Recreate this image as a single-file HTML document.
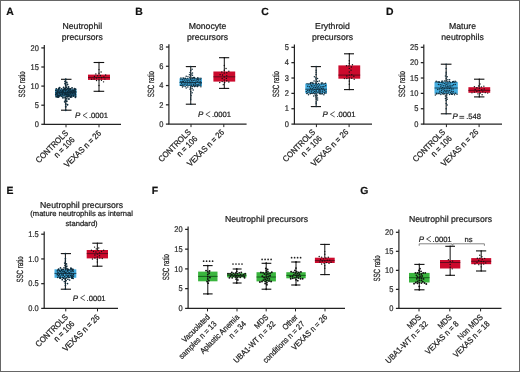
<!DOCTYPE html>
<html><head><meta charset="utf-8"><style>
html,body{margin:0;padding:0;background:#fff;}
body{width:520px;height:372px;overflow:hidden;}
.wrap{position:relative;width:520px;height:372px;box-sizing:border-box;border:1px solid #666;}
svg{position:absolute;left:-1px;top:-1px;filter:blur(0.3px);}
text{font-family:"Liberation Sans", sans-serif;stroke:#1a1a1a;stroke-width:0.22px;text-rendering:geometricPrecision;}
</style></head><body><div class="wrap">
<svg width="520" height="372" viewBox="0 0 520 372" font-family='"Liberation Sans", sans-serif'>
<text x="6.3" y="15.4" font-size="10.4" font-weight="bold" fill="#111">A</text>
<text x="135.3" y="15.4" font-size="10.4" font-weight="bold" fill="#111">B</text>
<text x="261.2" y="15.4" font-size="10.4" font-weight="bold" fill="#111">C</text>
<text x="386.0" y="15.4" font-size="10.4" font-weight="bold" fill="#111">D</text>
<text x="6.5" y="193.9" font-size="10.4" font-weight="bold" fill="#111">E</text>
<text x="151.8" y="193.9" font-size="10.4" font-weight="bold" fill="#111">F</text>
<text x="360.3" y="193.9" font-size="10.4" font-weight="bold" fill="#111">G</text>
<text x="82.3" y="29.2" text-anchor="middle" font-size="8.7" fill="#222">Neutrophil</text>
<text x="82.3" y="39.6" text-anchor="middle" font-size="8.7" fill="#222">precursors</text>
<line x1="44.3" y1="45.1" x2="44.3" y2="124.3" stroke="#222" stroke-width="1.2"/>
<line x1="43.699999999999996" y1="124.3" x2="121" y2="124.3" stroke="#222" stroke-width="1.2"/>
<line x1="41.3" y1="124.30" x2="44.3" y2="124.30" stroke="#222" stroke-width="1.25"/>
<text transform="translate(38.80,127.05) scale(0.9,1)" text-anchor="end" font-size="8.32" fill="#333">0</text>
<line x1="41.3" y1="105.20" x2="44.3" y2="105.20" stroke="#222" stroke-width="1.25"/>
<text transform="translate(38.80,107.95) scale(0.9,1)" text-anchor="end" font-size="8.32" fill="#333">5</text>
<line x1="41.3" y1="86.10" x2="44.3" y2="86.10" stroke="#222" stroke-width="1.25"/>
<text transform="translate(38.80,88.85) scale(0.9,1)" text-anchor="end" font-size="8.32" fill="#333">10</text>
<line x1="41.3" y1="67.00" x2="44.3" y2="67.00" stroke="#222" stroke-width="1.25"/>
<text transform="translate(38.80,69.75) scale(0.9,1)" text-anchor="end" font-size="8.32" fill="#333">15</text>
<line x1="41.3" y1="47.90" x2="44.3" y2="47.90" stroke="#222" stroke-width="1.25"/>
<text transform="translate(38.80,50.65) scale(0.9,1)" text-anchor="end" font-size="8.32" fill="#333">20</text>
<line x1="66" y1="124.3" x2="66" y2="127.3" stroke="#222" stroke-width="1"/>
<line x1="99" y1="124.3" x2="99" y2="127.3" stroke="#222" stroke-width="1"/>
<text transform="translate(24.9,84.4) rotate(-90) scale(0.68,1)" text-anchor="middle" font-size="9.0" fill="#222">SSC ratio</text>
<line x1="65.75" y1="79.3" x2="65.75" y2="110.2" stroke="#111" stroke-width="1"/>
<line x1="61" y1="79.3" x2="71.5" y2="79.3" stroke="#111" stroke-width="1.1"/>
<line x1="61" y1="110.2" x2="71.5" y2="110.2" stroke="#111" stroke-width="1.1"/>
<rect x="55" y="89.2" width="21.50" height="7.20" fill="#44ade0"/>
<rect x="56.50" y="90.20" width="18.50" height="5.20" fill="#24688e"/>
<line x1="55" y1="92.6" x2="76.5" y2="92.6" stroke="#0d2a3a" stroke-width="0.8"/>
<circle cx="65.75" cy="92.70" r="0.95" fill="#0e2c3c"/>
<circle cx="67.85" cy="92.72" r="0.95" fill="#0e2c3c"/>
<circle cx="63.65" cy="92.44" r="0.95" fill="#0e2c3c"/>
<circle cx="69.60" cy="92.21" r="0.95" fill="#0e2c3c"/>
<circle cx="61.55" cy="92.14" r="0.95" fill="#0e2c3c"/>
<circle cx="71.70" cy="92.10" r="0.95" fill="#0e2c3c"/>
<circle cx="59.45" cy="92.08" r="0.95" fill="#0e2c3c"/>
<circle cx="73.80" cy="91.96" r="0.95" fill="#0e2c3c"/>
<circle cx="57.35" cy="91.86" r="0.95" fill="#0e2c3c"/>
<circle cx="75.20" cy="93.37" r="0.95" fill="#0e2c3c"/>
<circle cx="56.30" cy="93.38" r="0.95" fill="#0e2c3c"/>
<circle cx="65.20" cy="93.39" r="0.95" fill="#0e2c3c"/>
<circle cx="59.65" cy="93.42" r="0.95" fill="#0e2c3c"/>
<circle cx="67.84" cy="91.73" r="0.95" fill="#0e2c3c"/>
<circle cx="72.75" cy="93.62" r="0.95" fill="#0e2c3c"/>
<circle cx="70.65" cy="93.70" r="0.95" fill="#0e2c3c"/>
<circle cx="75.55" cy="91.49" r="0.95" fill="#0e2c3c"/>
<circle cx="62.65" cy="91.47" r="0.95" fill="#0e2c3c"/>
<circle cx="62.25" cy="93.87" r="0.95" fill="#0e2c3c"/>
<circle cx="71.89" cy="91.24" r="0.95" fill="#0e2c3c"/>
<circle cx="70.19" cy="91.16" r="0.95" fill="#0e2c3c"/>
<circle cx="62.76" cy="91.15" r="0.95" fill="#0e2c3c"/>
<circle cx="75.19" cy="91.14" r="0.95" fill="#0e2c3c"/>
<circle cx="57.40" cy="94.06" r="0.95" fill="#0e2c3c"/>
<circle cx="57.83" cy="91.09" r="0.95" fill="#0e2c3c"/>
<circle cx="68.90" cy="94.19" r="0.95" fill="#0e2c3c"/>
<circle cx="66.80" cy="94.31" r="0.95" fill="#0e2c3c"/>
<circle cx="65.15" cy="94.32" r="0.95" fill="#0e2c3c"/>
<circle cx="65.75" cy="90.82" r="0.95" fill="#0e2c3c"/>
<circle cx="62.52" cy="94.50" r="0.95" fill="#0e2c3c"/>
<circle cx="65.40" cy="94.58" r="0.95" fill="#0e2c3c"/>
<circle cx="75.41" cy="94.59" r="0.95" fill="#0e2c3c"/>
<circle cx="67.94" cy="94.61" r="0.95" fill="#0e2c3c"/>
<circle cx="60.50" cy="90.55" r="0.95" fill="#0e2c3c"/>
<circle cx="55.84" cy="94.73" r="0.95" fill="#0e2c3c"/>
<circle cx="55.95" cy="90.45" r="0.95" fill="#0e2c3c"/>
<circle cx="73.89" cy="90.43" r="0.95" fill="#0e2c3c"/>
<circle cx="62.65" cy="90.34" r="0.95" fill="#0e2c3c"/>
<circle cx="60.50" cy="95.04" r="0.95" fill="#0e2c3c"/>
<circle cx="68.60" cy="90.15" r="0.95" fill="#0e2c3c"/>
<circle cx="72.41" cy="90.10" r="0.95" fill="#0e2c3c"/>
<circle cx="71.35" cy="95.39" r="0.95" fill="#0e2c3c"/>
<circle cx="73.45" cy="95.45" r="0.95" fill="#0e2c3c"/>
<circle cx="58.19" cy="89.70" r="0.95" fill="#0e2c3c"/>
<circle cx="58.75" cy="95.59" r="0.95" fill="#0e2c3c"/>
<circle cx="64.35" cy="89.57" r="0.95" fill="#0e2c3c"/>
<circle cx="63.53" cy="89.53" r="0.95" fill="#0e2c3c"/>
<circle cx="69.96" cy="89.52" r="0.95" fill="#0e2c3c"/>
<circle cx="64.00" cy="95.85" r="0.95" fill="#0e2c3c"/>
<circle cx="69.60" cy="95.86" r="0.95" fill="#0e2c3c"/>
<circle cx="66.80" cy="89.33" r="0.95" fill="#0e2c3c"/>
<circle cx="75.55" cy="89.32" r="0.95" fill="#0e2c3c"/>
<circle cx="59.77" cy="95.92" r="0.95" fill="#0e2c3c"/>
<circle cx="73.49" cy="95.94" r="0.95" fill="#0e2c3c"/>
<circle cx="64.44" cy="89.26" r="0.95" fill="#0e2c3c"/>
<circle cx="68.45" cy="95.97" r="0.95" fill="#0e2c3c"/>
<circle cx="57.53" cy="96.03" r="0.95" fill="#0e2c3c"/>
<circle cx="74.63" cy="89.15" r="0.95" fill="#0e2c3c"/>
<circle cx="66.45" cy="96.15" r="0.95" fill="#0e2c3c"/>
<circle cx="70.16" cy="89.02" r="0.95" fill="#0e2c3c"/>
<circle cx="65.02" cy="89.02" r="0.95" fill="#0e2c3c"/>
<circle cx="61.90" cy="96.21" r="0.95" fill="#0e2c3c"/>
<circle cx="70.59" cy="88.98" r="0.95" fill="#0e2c3c"/>
<circle cx="57.49" cy="96.24" r="0.95" fill="#0e2c3c"/>
<circle cx="58.96" cy="88.95" r="0.95" fill="#0e2c3c"/>
<circle cx="75.56" cy="96.29" r="0.95" fill="#0e2c3c"/>
<circle cx="61.55" cy="88.87" r="0.95" fill="#0e2c3c"/>
<circle cx="56.35" cy="88.87" r="0.95" fill="#0e2c3c"/>
<circle cx="67.56" cy="88.80" r="0.95" fill="#0e2c3c"/>
<circle cx="65.06" cy="88.74" r="0.95" fill="#0e2c3c"/>
<circle cx="68.85" cy="88.74" r="0.95" fill="#0e2c3c"/>
<circle cx="67.97" cy="96.49" r="0.95" fill="#0e2c3c"/>
<circle cx="67.66" cy="96.53" r="0.95" fill="#0e2c3c"/>
<circle cx="65.24" cy="88.67" r="0.95" fill="#0e2c3c"/>
<circle cx="74.46" cy="88.63" r="0.95" fill="#0e2c3c"/>
<circle cx="58.90" cy="88.57" r="0.95" fill="#0e2c3c"/>
<circle cx="66.71" cy="96.66" r="0.95" fill="#0e2c3c"/>
<circle cx="56.23" cy="96.69" r="0.95" fill="#0e2c3c"/>
<circle cx="71.71" cy="96.83" r="0.95" fill="#0e2c3c"/>
<circle cx="70.25" cy="96.87" r="0.95" fill="#0e2c3c"/>
<circle cx="57.85" cy="96.95" r="0.95" fill="#0e2c3c"/>
<circle cx="70.71" cy="96.98" r="0.95" fill="#0e2c3c"/>
<circle cx="58.57" cy="97.00" r="0.95" fill="#0e2c3c"/>
<circle cx="75.43" cy="97.18" r="0.95" fill="#0e2c3c"/>
<circle cx="72.05" cy="87.91" r="0.95" fill="#0e2c3c"/>
<circle cx="59.68" cy="87.76" r="0.95" fill="#0e2c3c"/>
<circle cx="65.05" cy="97.72" r="0.95" fill="#0e2c3c"/>
<circle cx="62.95" cy="97.75" r="0.95" fill="#0e2c3c"/>
<circle cx="63.65" cy="87.45" r="0.95" fill="#0e2c3c"/>
<circle cx="66.45" cy="87.29" r="0.95" fill="#0e2c3c"/>
<circle cx="68.55" cy="86.96" r="0.95" fill="#0e2c3c"/>
<circle cx="66.80" cy="98.83" r="0.95" fill="#0e2c3c"/>
<circle cx="68.90" cy="98.96" r="0.95" fill="#0e2c3c"/>
<circle cx="65.75" cy="85.31" r="0.95" fill="#0e2c3c"/>
<circle cx="65.40" cy="100.13" r="0.95" fill="#0e2c3c"/>
<circle cx="67.50" cy="84.53" r="0.95" fill="#0e2c3c"/>
<circle cx="66.80" cy="101.29" r="0.95" fill="#0e2c3c"/>
<circle cx="65.05" cy="83.64" r="0.95" fill="#0e2c3c"/>
<circle cx="64.70" cy="101.86" r="0.95" fill="#0e2c3c"/>
<circle cx="66.80" cy="82.54" r="0.95" fill="#0e2c3c"/>
<circle cx="65.05" cy="81.57" r="0.95" fill="#0e2c3c"/>
<circle cx="65.75" cy="103.88" r="0.95" fill="#0e2c3c"/>
<circle cx="67.50" cy="104.82" r="0.95" fill="#0e2c3c"/>
<circle cx="65.75" cy="79.30" r="0.95" fill="#0e2c3c"/>
<circle cx="65.75" cy="106.81" r="0.95" fill="#0e2c3c"/>
<circle cx="65.75" cy="110.20" r="0.95" fill="#0e2c3c"/>
<line x1="99.00" y1="62.5" x2="99.00" y2="91.3" stroke="#111" stroke-width="1"/>
<line x1="93.6" y1="62.5" x2="104.2" y2="62.5" stroke="#111" stroke-width="1.1"/>
<line x1="93.6" y1="91.3" x2="104.2" y2="91.3" stroke="#111" stroke-width="1.1"/>
<rect x="88" y="74.6" width="22.00" height="5.30" fill="#cc0a2d"/>
<line x1="88" y1="77.5" x2="110" y2="77.5" stroke="#4a0a18" stroke-width="0.8"/>
<circle cx="99.00" cy="77.63" r="0.7" fill="#111"/>
<circle cx="101.45" cy="77.71" r="0.7" fill="#111"/>
<circle cx="96.55" cy="78.01" r="0.7" fill="#111"/>
<circle cx="103.90" cy="76.90" r="0.7" fill="#111"/>
<circle cx="94.45" cy="76.56" r="0.7" fill="#111"/>
<circle cx="94.10" cy="78.99" r="0.7" fill="#111"/>
<circle cx="104.95" cy="79.08" r="0.7" fill="#111"/>
<circle cx="91.65" cy="79.25" r="0.7" fill="#111"/>
<circle cx="97.60" cy="75.67" r="0.7" fill="#111"/>
<circle cx="100.40" cy="75.52" r="0.7" fill="#111"/>
<circle cx="105.65" cy="75.05" r="0.7" fill="#111"/>
<circle cx="99.00" cy="80.06" r="0.7" fill="#111"/>
<circle cx="101.45" cy="80.22" r="0.7" fill="#111"/>
<circle cx="96.55" cy="80.46" r="0.7" fill="#111"/>
<circle cx="95.85" cy="73.99" r="0.7" fill="#111"/>
<circle cx="99.00" cy="73.22" r="0.7" fill="#111"/>
<circle cx="103.55" cy="81.84" r="0.7" fill="#111"/>
<circle cx="101.10" cy="71.95" r="0.7" fill="#111"/>
<circle cx="99.00" cy="69.59" r="0.7" fill="#111"/>
<circle cx="99.00" cy="85.49" r="0.7" fill="#111"/>
<circle cx="99.00" cy="91.30" r="0.7" fill="#111"/>
<circle cx="99.00" cy="62.50" r="0.7" fill="#111"/>
<text x="75.10" y="118.2" font-size="8.0" font-style="italic" fill="#222">P</text>
<path d="M87.30 112.70 L83.00 115.40 L87.30 118.10" fill="none" stroke="#222" stroke-width="0.75"/>
<text x="89.00" y="118.2" font-size="7.6" fill="#222">.0001</text>
<text transform="translate(68.80,133.70) rotate(-45) scale(0.9,1)" text-anchor="end" font-size="8.44" fill="#222"><tspan x="0" y="0.00">CONTROLS</tspan><tspan x="0" y="9.20">n = 106</tspan></text>
<text transform="translate(101.80,133.70) rotate(-45) scale(0.9,1)" text-anchor="end" font-size="8.44" fill="#222"><tspan x="0" y="0.00">VEXAS n = 26</tspan></text>
<text x="207.5" y="29.2" text-anchor="middle" font-size="8.7" fill="#222">Monocyte</text>
<text x="207.5" y="39.6" text-anchor="middle" font-size="8.7" fill="#222">precursors</text>
<line x1="168.9" y1="44.2" x2="168.9" y2="124.1" stroke="#222" stroke-width="1.2"/>
<line x1="168.3" y1="124.1" x2="246.6" y2="124.1" stroke="#222" stroke-width="1.2"/>
<line x1="165.9" y1="124.10" x2="168.9" y2="124.10" stroke="#222" stroke-width="1.25"/>
<text transform="translate(163.40,126.85) scale(0.9,1)" text-anchor="end" font-size="8.32" fill="#333">0</text>
<line x1="165.9" y1="104.82" x2="168.9" y2="104.82" stroke="#222" stroke-width="1.25"/>
<text transform="translate(163.40,107.57) scale(0.9,1)" text-anchor="end" font-size="8.32" fill="#333">2</text>
<line x1="165.9" y1="85.55" x2="168.9" y2="85.55" stroke="#222" stroke-width="1.25"/>
<text transform="translate(163.40,88.30) scale(0.9,1)" text-anchor="end" font-size="8.32" fill="#333">4</text>
<line x1="165.9" y1="66.28" x2="168.9" y2="66.28" stroke="#222" stroke-width="1.25"/>
<text transform="translate(163.40,69.03) scale(0.9,1)" text-anchor="end" font-size="8.32" fill="#333">6</text>
<line x1="165.9" y1="47.00" x2="168.9" y2="47.00" stroke="#222" stroke-width="1.25"/>
<text transform="translate(163.40,49.75) scale(0.9,1)" text-anchor="end" font-size="8.32" fill="#333">8</text>
<line x1="191" y1="124.1" x2="191" y2="127.1" stroke="#222" stroke-width="1"/>
<line x1="223.8" y1="124.1" x2="223.8" y2="127.1" stroke="#222" stroke-width="1"/>
<text transform="translate(153.7,84.2) rotate(-90) scale(0.68,1)" text-anchor="middle" font-size="9.0" fill="#222">SSC ratio</text>
<line x1="190.75" y1="66.6" x2="190.75" y2="104.2" stroke="#111" stroke-width="1"/>
<line x1="185.8" y1="66.6" x2="196" y2="66.6" stroke="#111" stroke-width="1.1"/>
<line x1="185.8" y1="104.2" x2="196" y2="104.2" stroke="#111" stroke-width="1.1"/>
<rect x="179.5" y="78.3" width="22.50" height="7.70" fill="#44ade0"/>
<line x1="179.5" y1="82.4" x2="202" y2="82.4" stroke="#0d2a3a" stroke-width="0.8"/>
<circle cx="190.75" cy="82.53" r="0.75" fill="#0e2c3c"/>
<circle cx="192.50" cy="82.25" r="0.75" fill="#0e2c3c"/>
<circle cx="189.00" cy="82.65" r="0.75" fill="#0e2c3c"/>
<circle cx="194.25" cy="82.66" r="0.75" fill="#0e2c3c"/>
<circle cx="187.25" cy="82.03" r="0.75" fill="#0e2c3c"/>
<circle cx="196.00" cy="82.01" r="0.75" fill="#0e2c3c"/>
<circle cx="185.50" cy="81.98" r="0.75" fill="#0e2c3c"/>
<circle cx="184.10" cy="82.95" r="0.75" fill="#0e2c3c"/>
<circle cx="197.75" cy="81.81" r="0.75" fill="#0e2c3c"/>
<circle cx="199.15" cy="83.01" r="0.75" fill="#0e2c3c"/>
<circle cx="182.70" cy="81.72" r="0.75" fill="#0e2c3c"/>
<circle cx="181.65" cy="83.15" r="0.75" fill="#0e2c3c"/>
<circle cx="200.20" cy="81.65" r="0.75" fill="#0e2c3c"/>
<circle cx="180.95" cy="81.59" r="0.75" fill="#0e2c3c"/>
<circle cx="183.42" cy="81.59" r="0.75" fill="#0e2c3c"/>
<circle cx="200.90" cy="83.30" r="0.75" fill="#0e2c3c"/>
<circle cx="195.43" cy="83.34" r="0.75" fill="#0e2c3c"/>
<circle cx="189.70" cy="81.03" r="0.75" fill="#0e2c3c"/>
<circle cx="191.80" cy="83.95" r="0.75" fill="#0e2c3c"/>
<circle cx="187.60" cy="83.98" r="0.75" fill="#0e2c3c"/>
<circle cx="191.45" cy="80.80" r="0.75" fill="#0e2c3c"/>
<circle cx="185.85" cy="84.03" r="0.75" fill="#0e2c3c"/>
<circle cx="190.05" cy="84.09" r="0.75" fill="#0e2c3c"/>
<circle cx="193.20" cy="80.49" r="0.75" fill="#0e2c3c"/>
<circle cx="187.95" cy="80.46" r="0.75" fill="#0e2c3c"/>
<circle cx="193.55" cy="84.35" r="0.75" fill="#0e2c3c"/>
<circle cx="197.05" cy="84.41" r="0.75" fill="#0e2c3c"/>
<circle cx="194.95" cy="80.34" r="0.75" fill="#0e2c3c"/>
<circle cx="186.20" cy="80.08" r="0.75" fill="#0e2c3c"/>
<circle cx="196.70" cy="80.07" r="0.75" fill="#0e2c3c"/>
<circle cx="184.45" cy="80.04" r="0.75" fill="#0e2c3c"/>
<circle cx="184.10" cy="84.77" r="0.75" fill="#0e2c3c"/>
<circle cx="198.80" cy="84.78" r="0.75" fill="#0e2c3c"/>
<circle cx="198.45" cy="79.91" r="0.75" fill="#0e2c3c"/>
<circle cx="195.30" cy="85.07" r="0.75" fill="#0e2c3c"/>
<circle cx="182.70" cy="79.73" r="0.75" fill="#0e2c3c"/>
<circle cx="200.20" cy="79.71" r="0.75" fill="#0e2c3c"/>
<circle cx="182.35" cy="85.10" r="0.75" fill="#0e2c3c"/>
<circle cx="200.55" cy="85.11" r="0.75" fill="#0e2c3c"/>
<circle cx="180.60" cy="85.22" r="0.75" fill="#0e2c3c"/>
<circle cx="193.74" cy="85.31" r="0.75" fill="#0e2c3c"/>
<circle cx="189.00" cy="85.49" r="0.75" fill="#0e2c3c"/>
<circle cx="191.10" cy="85.55" r="0.75" fill="#0e2c3c"/>
<circle cx="190.75" cy="79.25" r="0.75" fill="#0e2c3c"/>
<circle cx="186.90" cy="85.55" r="0.75" fill="#0e2c3c"/>
<circle cx="181.22" cy="85.57" r="0.75" fill="#0e2c3c"/>
<circle cx="180.95" cy="79.16" r="0.75" fill="#0e2c3c"/>
<circle cx="197.76" cy="79.16" r="0.75" fill="#0e2c3c"/>
<circle cx="198.94" cy="85.76" r="0.75" fill="#0e2c3c"/>
<circle cx="193.41" cy="85.80" r="0.75" fill="#0e2c3c"/>
<circle cx="195.64" cy="85.80" r="0.75" fill="#0e2c3c"/>
<circle cx="197.28" cy="85.80" r="0.75" fill="#0e2c3c"/>
<circle cx="189.00" cy="78.96" r="0.75" fill="#0e2c3c"/>
<circle cx="183.21" cy="85.93" r="0.75" fill="#0e2c3c"/>
<circle cx="192.50" cy="78.83" r="0.75" fill="#0e2c3c"/>
<circle cx="194.25" cy="78.71" r="0.75" fill="#0e2c3c"/>
<circle cx="191.25" cy="86.09" r="0.75" fill="#0e2c3c"/>
<circle cx="187.25" cy="78.68" r="0.75" fill="#0e2c3c"/>
<circle cx="190.84" cy="78.68" r="0.75" fill="#0e2c3c"/>
<circle cx="197.75" cy="78.66" r="0.75" fill="#0e2c3c"/>
<circle cx="196.00" cy="78.48" r="0.75" fill="#0e2c3c"/>
<circle cx="185.50" cy="78.46" r="0.75" fill="#0e2c3c"/>
<circle cx="185.15" cy="86.41" r="0.75" fill="#0e2c3c"/>
<circle cx="197.12" cy="86.47" r="0.75" fill="#0e2c3c"/>
<circle cx="197.57" cy="86.49" r="0.75" fill="#0e2c3c"/>
<circle cx="183.75" cy="78.27" r="0.75" fill="#0e2c3c"/>
<circle cx="192.51" cy="86.54" r="0.75" fill="#0e2c3c"/>
<circle cx="198.96" cy="78.21" r="0.75" fill="#0e2c3c"/>
<circle cx="194.57" cy="86.59" r="0.75" fill="#0e2c3c"/>
<circle cx="194.79" cy="86.61" r="0.75" fill="#0e2c3c"/>
<circle cx="200.90" cy="78.15" r="0.75" fill="#0e2c3c"/>
<circle cx="185.11" cy="78.14" r="0.75" fill="#0e2c3c"/>
<circle cx="180.95" cy="78.08" r="0.75" fill="#0e2c3c"/>
<circle cx="200.90" cy="86.78" r="0.75" fill="#0e2c3c"/>
<circle cx="183.08" cy="77.96" r="0.75" fill="#0e2c3c"/>
<circle cx="187.84" cy="86.88" r="0.75" fill="#0e2c3c"/>
<circle cx="182.49" cy="86.97" r="0.75" fill="#0e2c3c"/>
<circle cx="197.77" cy="77.79" r="0.75" fill="#0e2c3c"/>
<circle cx="191.97" cy="77.79" r="0.75" fill="#0e2c3c"/>
<circle cx="193.42" cy="77.75" r="0.75" fill="#0e2c3c"/>
<circle cx="193.39" cy="77.55" r="0.75" fill="#0e2c3c"/>
<circle cx="194.53" cy="77.43" r="0.75" fill="#0e2c3c"/>
<circle cx="189.70" cy="77.19" r="0.75" fill="#0e2c3c"/>
<circle cx="190.40" cy="87.64" r="0.75" fill="#0e2c3c"/>
<circle cx="186.20" cy="87.89" r="0.75" fill="#0e2c3c"/>
<circle cx="187.95" cy="76.78" r="0.75" fill="#0e2c3c"/>
<circle cx="192.15" cy="88.48" r="0.75" fill="#0e2c3c"/>
<circle cx="186.20" cy="76.24" r="0.75" fill="#0e2c3c"/>
<circle cx="190.75" cy="75.84" r="0.75" fill="#0e2c3c"/>
<circle cx="190.05" cy="89.33" r="0.75" fill="#0e2c3c"/>
<circle cx="192.50" cy="75.14" r="0.75" fill="#0e2c3c"/>
<circle cx="193.20" cy="90.00" r="0.75" fill="#0e2c3c"/>
<circle cx="189.35" cy="74.64" r="0.75" fill="#0e2c3c"/>
<circle cx="191.10" cy="73.97" r="0.75" fill="#0e2c3c"/>
<circle cx="190.75" cy="91.62" r="0.75" fill="#0e2c3c"/>
<circle cx="192.50" cy="73.00" r="0.75" fill="#0e2c3c"/>
<circle cx="190.05" cy="72.43" r="0.75" fill="#0e2c3c"/>
<circle cx="192.15" cy="92.70" r="0.75" fill="#0e2c3c"/>
<circle cx="190.75" cy="93.95" r="0.75" fill="#0e2c3c"/>
<circle cx="190.75" cy="70.56" r="0.75" fill="#0e2c3c"/>
<circle cx="192.15" cy="69.30" r="0.75" fill="#0e2c3c"/>
<circle cx="191.10" cy="95.63" r="0.75" fill="#0e2c3c"/>
<circle cx="190.75" cy="97.98" r="0.75" fill="#0e2c3c"/>
<circle cx="190.75" cy="66.60" r="0.75" fill="#0e2c3c"/>
<circle cx="190.75" cy="99.73" r="0.75" fill="#0e2c3c"/>
<circle cx="190.75" cy="104.20" r="0.75" fill="#0e2c3c"/>
<line x1="224.30" y1="57.7" x2="224.30" y2="88.4" stroke="#111" stroke-width="1"/>
<line x1="219" y1="57.7" x2="229.2" y2="57.7" stroke="#111" stroke-width="1.1"/>
<line x1="219" y1="88.4" x2="229.2" y2="88.4" stroke="#111" stroke-width="1.1"/>
<rect x="213.4" y="71.5" width="21.80" height="10.10" fill="#cc0a2d"/>
<line x1="213.4" y1="76.8" x2="235.2" y2="76.8" stroke="#4a0a18" stroke-width="0.8"/>
<circle cx="224.30" cy="76.94" r="0.7" fill="#111"/>
<circle cx="226.75" cy="75.81" r="0.7" fill="#111"/>
<circle cx="226.40" cy="78.39" r="0.7" fill="#111"/>
<circle cx="222.20" cy="78.46" r="0.7" fill="#111"/>
<circle cx="222.55" cy="75.07" r="0.7" fill="#111"/>
<circle cx="220.10" cy="74.67" r="0.7" fill="#111"/>
<circle cx="224.30" cy="80.05" r="0.7" fill="#111"/>
<circle cx="224.30" cy="73.07" r="0.7" fill="#111"/>
<circle cx="226.75" cy="80.77" r="0.7" fill="#111"/>
<circle cx="226.75" cy="72.75" r="0.7" fill="#111"/>
<circle cx="221.85" cy="72.07" r="0.7" fill="#111"/>
<circle cx="222.20" cy="81.60" r="0.7" fill="#111"/>
<circle cx="228.85" cy="81.99" r="0.7" fill="#111"/>
<circle cx="228.85" cy="71.30" r="0.7" fill="#111"/>
<circle cx="224.65" cy="82.50" r="0.7" fill="#111"/>
<circle cx="219.75" cy="82.50" r="0.7" fill="#111"/>
<circle cx="224.30" cy="70.26" r="0.7" fill="#111"/>
<circle cx="223.25" cy="84.65" r="0.7" fill="#111"/>
<circle cx="226.05" cy="68.44" r="0.7" fill="#111"/>
<circle cx="224.30" cy="65.50" r="0.7" fill="#111"/>
<circle cx="224.30" cy="88.40" r="0.7" fill="#111"/>
<circle cx="224.30" cy="57.70" r="0.7" fill="#111"/>
<text x="198.00" y="117.1" font-size="8.0" font-style="italic" fill="#222">P</text>
<path d="M210.20 111.60 L205.90 114.30 L210.20 117.00" fill="none" stroke="#222" stroke-width="0.75"/>
<text x="211.90" y="117.1" font-size="7.6" fill="#222">.0001</text>
<text transform="translate(191.50,132.70) rotate(-45) scale(0.9,1)" text-anchor="end" font-size="8.44" fill="#222"><tspan x="0" y="0.00">CONTROLS</tspan><tspan x="0" y="9.20">n = 106</tspan></text>
<text transform="translate(224.80,132.70) rotate(-45) scale(0.9,1)" text-anchor="end" font-size="8.44" fill="#222"><tspan x="0" y="0.00">VEXAS n = 26</tspan></text>
<text x="332.5" y="29.2" text-anchor="middle" font-size="8.7" fill="#222">Erythroid</text>
<text x="332.5" y="39.6" text-anchor="middle" font-size="8.7" fill="#222">precursors</text>
<line x1="294.4" y1="44.5" x2="294.4" y2="124.1" stroke="#222" stroke-width="1.2"/>
<line x1="293.79999999999995" y1="124.1" x2="372" y2="124.1" stroke="#222" stroke-width="1.2"/>
<line x1="291.4" y1="124.10" x2="294.4" y2="124.10" stroke="#222" stroke-width="1.25"/>
<text transform="translate(288.90,126.85) scale(0.9,1)" text-anchor="end" font-size="8.32" fill="#333">0</text>
<line x1="291.4" y1="108.74" x2="294.4" y2="108.74" stroke="#222" stroke-width="1.25"/>
<text transform="translate(288.90,111.49) scale(0.9,1)" text-anchor="end" font-size="8.32" fill="#333">1</text>
<line x1="291.4" y1="93.38" x2="294.4" y2="93.38" stroke="#222" stroke-width="1.25"/>
<text transform="translate(288.90,96.13) scale(0.9,1)" text-anchor="end" font-size="8.32" fill="#333">2</text>
<line x1="291.4" y1="78.02" x2="294.4" y2="78.02" stroke="#222" stroke-width="1.25"/>
<text transform="translate(288.90,80.77) scale(0.9,1)" text-anchor="end" font-size="8.32" fill="#333">3</text>
<line x1="291.4" y1="62.66" x2="294.4" y2="62.66" stroke="#222" stroke-width="1.25"/>
<text transform="translate(288.90,65.41) scale(0.9,1)" text-anchor="end" font-size="8.32" fill="#333">4</text>
<line x1="291.4" y1="47.30" x2="294.4" y2="47.30" stroke="#222" stroke-width="1.25"/>
<text transform="translate(288.90,50.05) scale(0.9,1)" text-anchor="end" font-size="8.32" fill="#333">5</text>
<line x1="316.4" y1="124.1" x2="316.4" y2="127.1" stroke="#222" stroke-width="1"/>
<line x1="349.1" y1="124.1" x2="349.1" y2="127.1" stroke="#222" stroke-width="1"/>
<text transform="translate(278.7,84.2) rotate(-90) scale(0.68,1)" text-anchor="middle" font-size="9.0" fill="#222">SSC ratio</text>
<line x1="316.15" y1="66.6" x2="316.15" y2="106.6" stroke="#111" stroke-width="1"/>
<line x1="310.8" y1="66.6" x2="321" y2="66.6" stroke="#111" stroke-width="1.1"/>
<line x1="310.8" y1="106.6" x2="321" y2="106.6" stroke="#111" stroke-width="1.1"/>
<rect x="305.3" y="83.6" width="21.70" height="9.70" fill="#44ade0"/>
<line x1="305.3" y1="89.2" x2="327" y2="89.2" stroke="#0d2a3a" stroke-width="0.8"/>
<circle cx="316.15" cy="89.20" r="0.75" fill="#0e2c3c"/>
<circle cx="317.90" cy="89.30" r="0.75" fill="#0e2c3c"/>
<circle cx="314.40" cy="89.43" r="0.75" fill="#0e2c3c"/>
<circle cx="319.65" cy="89.49" r="0.75" fill="#0e2c3c"/>
<circle cx="312.65" cy="88.72" r="0.75" fill="#0e2c3c"/>
<circle cx="321.40" cy="88.59" r="0.75" fill="#0e2c3c"/>
<circle cx="311.25" cy="89.88" r="0.75" fill="#0e2c3c"/>
<circle cx="322.80" cy="89.90" r="0.75" fill="#0e2c3c"/>
<circle cx="310.55" cy="88.23" r="0.75" fill="#0e2c3c"/>
<circle cx="323.15" cy="88.19" r="0.75" fill="#0e2c3c"/>
<circle cx="309.50" cy="90.23" r="0.75" fill="#0e2c3c"/>
<circle cx="324.55" cy="90.31" r="0.75" fill="#0e2c3c"/>
<circle cx="307.75" cy="90.38" r="0.75" fill="#0e2c3c"/>
<circle cx="318.95" cy="87.93" r="0.75" fill="#0e2c3c"/>
<circle cx="317.20" cy="87.71" r="0.75" fill="#0e2c3c"/>
<circle cx="313.00" cy="90.72" r="0.75" fill="#0e2c3c"/>
<circle cx="315.45" cy="87.56" r="0.75" fill="#0e2c3c"/>
<circle cx="316.15" cy="90.91" r="0.75" fill="#0e2c3c"/>
<circle cx="318.60" cy="90.92" r="0.75" fill="#0e2c3c"/>
<circle cx="320.70" cy="90.97" r="0.75" fill="#0e2c3c"/>
<circle cx="316.12" cy="91.01" r="0.75" fill="#0e2c3c"/>
<circle cx="313.70" cy="87.36" r="0.75" fill="#0e2c3c"/>
<circle cx="319.66" cy="91.10" r="0.75" fill="#0e2c3c"/>
<circle cx="325.95" cy="91.36" r="0.75" fill="#0e2c3c"/>
<circle cx="306.35" cy="91.39" r="0.75" fill="#0e2c3c"/>
<circle cx="314.54" cy="91.47" r="0.75" fill="#0e2c3c"/>
<circle cx="320.35" cy="86.89" r="0.75" fill="#0e2c3c"/>
<circle cx="311.95" cy="86.78" r="0.75" fill="#0e2c3c"/>
<circle cx="311.25" cy="91.65" r="0.75" fill="#0e2c3c"/>
<circle cx="322.45" cy="91.69" r="0.75" fill="#0e2c3c"/>
<circle cx="322.10" cy="86.70" r="0.75" fill="#0e2c3c"/>
<circle cx="309.50" cy="86.68" r="0.75" fill="#0e2c3c"/>
<circle cx="309.15" cy="91.90" r="0.75" fill="#0e2c3c"/>
<circle cx="323.85" cy="86.39" r="0.75" fill="#0e2c3c"/>
<circle cx="318.25" cy="86.20" r="0.75" fill="#0e2c3c"/>
<circle cx="307.75" cy="86.19" r="0.75" fill="#0e2c3c"/>
<circle cx="316.50" cy="86.09" r="0.75" fill="#0e2c3c"/>
<circle cx="317.20" cy="92.36" r="0.75" fill="#0e2c3c"/>
<circle cx="324.20" cy="92.36" r="0.75" fill="#0e2c3c"/>
<circle cx="314.75" cy="85.79" r="0.75" fill="#0e2c3c"/>
<circle cx="325.60" cy="85.66" r="0.75" fill="#0e2c3c"/>
<circle cx="311.27" cy="85.61" r="0.75" fill="#0e2c3c"/>
<circle cx="318.95" cy="92.86" r="0.75" fill="#0e2c3c"/>
<circle cx="313.35" cy="92.87" r="0.75" fill="#0e2c3c"/>
<circle cx="315.45" cy="92.97" r="0.75" fill="#0e2c3c"/>
<circle cx="320.70" cy="93.00" r="0.75" fill="#0e2c3c"/>
<circle cx="307.75" cy="93.01" r="0.75" fill="#0e2c3c"/>
<circle cx="325.95" cy="93.08" r="0.75" fill="#0e2c3c"/>
<circle cx="319.51" cy="93.13" r="0.75" fill="#0e2c3c"/>
<circle cx="324.70" cy="93.16" r="0.75" fill="#0e2c3c"/>
<circle cx="311.60" cy="93.33" r="0.75" fill="#0e2c3c"/>
<circle cx="322.45" cy="93.41" r="0.75" fill="#0e2c3c"/>
<circle cx="310.66" cy="93.41" r="0.75" fill="#0e2c3c"/>
<circle cx="306.79" cy="93.45" r="0.75" fill="#0e2c3c"/>
<circle cx="313.00" cy="84.93" r="0.75" fill="#0e2c3c"/>
<circle cx="312.89" cy="93.47" r="0.75" fill="#0e2c3c"/>
<circle cx="319.65" cy="84.92" r="0.75" fill="#0e2c3c"/>
<circle cx="314.55" cy="93.68" r="0.75" fill="#0e2c3c"/>
<circle cx="319.82" cy="93.79" r="0.75" fill="#0e2c3c"/>
<circle cx="310.08" cy="93.84" r="0.75" fill="#0e2c3c"/>
<circle cx="322.12" cy="93.87" r="0.75" fill="#0e2c3c"/>
<circle cx="317.20" cy="84.51" r="0.75" fill="#0e2c3c"/>
<circle cx="316.85" cy="94.06" r="0.75" fill="#0e2c3c"/>
<circle cx="320.96" cy="94.12" r="0.75" fill="#0e2c3c"/>
<circle cx="315.45" cy="84.11" r="0.75" fill="#0e2c3c"/>
<circle cx="321.40" cy="84.11" r="0.75" fill="#0e2c3c"/>
<circle cx="310.55" cy="84.04" r="0.75" fill="#0e2c3c"/>
<circle cx="323.15" cy="83.96" r="0.75" fill="#0e2c3c"/>
<circle cx="308.80" cy="83.90" r="0.75" fill="#0e2c3c"/>
<circle cx="324.90" cy="83.81" r="0.75" fill="#0e2c3c"/>
<circle cx="307.05" cy="83.77" r="0.75" fill="#0e2c3c"/>
<circle cx="323.85" cy="94.74" r="0.75" fill="#0e2c3c"/>
<circle cx="316.25" cy="83.56" r="0.75" fill="#0e2c3c"/>
<circle cx="308.45" cy="94.85" r="0.75" fill="#0e2c3c"/>
<circle cx="318.60" cy="83.46" r="0.75" fill="#0e2c3c"/>
<circle cx="310.22" cy="83.39" r="0.75" fill="#0e2c3c"/>
<circle cx="313.70" cy="83.34" r="0.75" fill="#0e2c3c"/>
<circle cx="325.59" cy="83.31" r="0.75" fill="#0e2c3c"/>
<circle cx="315.45" cy="95.25" r="0.75" fill="#0e2c3c"/>
<circle cx="312.37" cy="83.15" r="0.75" fill="#0e2c3c"/>
<circle cx="322.58" cy="83.10" r="0.75" fill="#0e2c3c"/>
<circle cx="310.74" cy="83.06" r="0.75" fill="#0e2c3c"/>
<circle cx="310.55" cy="82.98" r="0.75" fill="#0e2c3c"/>
<circle cx="321.39" cy="82.88" r="0.75" fill="#0e2c3c"/>
<circle cx="317.20" cy="95.82" r="0.75" fill="#0e2c3c"/>
<circle cx="312.03" cy="82.51" r="0.75" fill="#0e2c3c"/>
<circle cx="313.70" cy="96.11" r="0.75" fill="#0e2c3c"/>
<circle cx="315.80" cy="81.89" r="0.75" fill="#0e2c3c"/>
<circle cx="317.55" cy="81.44" r="0.75" fill="#0e2c3c"/>
<circle cx="315.80" cy="97.01" r="0.75" fill="#0e2c3c"/>
<circle cx="314.05" cy="81.10" r="0.75" fill="#0e2c3c"/>
<circle cx="319.30" cy="80.94" r="0.75" fill="#0e2c3c"/>
<circle cx="317.55" cy="97.93" r="0.75" fill="#0e2c3c"/>
<circle cx="316.15" cy="79.79" r="0.75" fill="#0e2c3c"/>
<circle cx="316.15" cy="99.08" r="0.75" fill="#0e2c3c"/>
<circle cx="317.55" cy="78.47" r="0.75" fill="#0e2c3c"/>
<circle cx="317.55" cy="100.08" r="0.75" fill="#0e2c3c"/>
<circle cx="315.80" cy="78.12" r="0.75" fill="#0e2c3c"/>
<circle cx="314.40" cy="76.84" r="0.75" fill="#0e2c3c"/>
<circle cx="316.15" cy="102.03" r="0.75" fill="#0e2c3c"/>
<circle cx="316.15" cy="103.76" r="0.75" fill="#0e2c3c"/>
<circle cx="316.15" cy="74.55" r="0.75" fill="#0e2c3c"/>
<circle cx="316.15" cy="72.28" r="0.75" fill="#0e2c3c"/>
<circle cx="316.15" cy="106.60" r="0.75" fill="#0e2c3c"/>
<circle cx="316.15" cy="70.15" r="0.75" fill="#0e2c3c"/>
<circle cx="316.15" cy="66.60" r="0.75" fill="#0e2c3c"/>
<line x1="349.30" y1="53.8" x2="349.30" y2="89.6" stroke="#111" stroke-width="1"/>
<line x1="344" y1="53.8" x2="354" y2="53.8" stroke="#111" stroke-width="1.1"/>
<line x1="344" y1="89.6" x2="354" y2="89.6" stroke="#111" stroke-width="1.1"/>
<rect x="338.4" y="65.4" width="21.80" height="13.30" fill="#cc0a2d"/>
<line x1="338.4" y1="75.1" x2="360.2" y2="75.1" stroke="#4a0a18" stroke-width="0.8"/>
<circle cx="349.30" cy="75.08" r="0.7" fill="#111"/>
<circle cx="351.75" cy="74.79" r="0.7" fill="#111"/>
<circle cx="346.85" cy="75.95" r="0.7" fill="#111"/>
<circle cx="353.85" cy="76.31" r="0.7" fill="#111"/>
<circle cx="349.30" cy="77.93" r="0.7" fill="#111"/>
<circle cx="349.30" cy="72.02" r="0.7" fill="#111"/>
<circle cx="351.75" cy="78.24" r="0.7" fill="#111"/>
<circle cx="346.85" cy="78.52" r="0.7" fill="#111"/>
<circle cx="344.40" cy="78.60" r="0.7" fill="#111"/>
<circle cx="354.20" cy="79.19" r="0.7" fill="#111"/>
<circle cx="351.05" cy="70.15" r="0.7" fill="#111"/>
<circle cx="349.30" cy="81.09" r="0.7" fill="#111"/>
<circle cx="349.30" cy="68.40" r="0.7" fill="#111"/>
<circle cx="351.40" cy="67.04" r="0.7" fill="#111"/>
<circle cx="349.30" cy="84.16" r="0.7" fill="#111"/>
<circle cx="348.95" cy="65.88" r="0.7" fill="#111"/>
<circle cx="346.50" cy="65.70" r="0.7" fill="#111"/>
<circle cx="352.45" cy="64.75" r="0.7" fill="#111"/>
<circle cx="349.30" cy="63.45" r="0.7" fill="#111"/>
<circle cx="349.30" cy="60.69" r="0.7" fill="#111"/>
<circle cx="349.30" cy="89.60" r="0.7" fill="#111"/>
<circle cx="349.30" cy="53.80" r="0.7" fill="#111"/>
<text x="322.50" y="117.1" font-size="8.0" font-style="italic" fill="#222">P</text>
<path d="M334.70 111.60 L330.40 114.30 L334.70 117.00" fill="none" stroke="#222" stroke-width="0.75"/>
<text x="336.40" y="117.1" font-size="7.6" fill="#222">.0001</text>
<text transform="translate(315.90,132.60) rotate(-45) scale(0.9,1)" text-anchor="end" font-size="8.44" fill="#222"><tspan x="0" y="0.00">CONTROLS</tspan><tspan x="0" y="9.20">n = 106</tspan></text>
<text transform="translate(348.90,132.60) rotate(-45) scale(0.9,1)" text-anchor="end" font-size="8.44" fill="#222"><tspan x="0" y="0.00">VEXAS n = 26</tspan></text>
<text x="462.5" y="29.2" text-anchor="middle" font-size="8.7" fill="#222">Mature</text>
<text x="462.5" y="39.6" text-anchor="middle" font-size="8.7" fill="#222">neutrophils</text>
<line x1="423.8" y1="44.5" x2="423.8" y2="124.1" stroke="#222" stroke-width="1.2"/>
<line x1="423.2" y1="124.1" x2="502" y2="124.1" stroke="#222" stroke-width="1.2"/>
<line x1="420.8" y1="124.10" x2="423.8" y2="124.10" stroke="#222" stroke-width="1.25"/>
<text transform="translate(418.30,126.85) scale(0.9,1)" text-anchor="end" font-size="8.32" fill="#333">0</text>
<line x1="420.8" y1="108.74" x2="423.8" y2="108.74" stroke="#222" stroke-width="1.25"/>
<text transform="translate(418.30,111.49) scale(0.9,1)" text-anchor="end" font-size="8.32" fill="#333">5</text>
<line x1="420.8" y1="93.38" x2="423.8" y2="93.38" stroke="#222" stroke-width="1.25"/>
<text transform="translate(418.30,96.13) scale(0.9,1)" text-anchor="end" font-size="8.32" fill="#333">10</text>
<line x1="420.8" y1="78.02" x2="423.8" y2="78.02" stroke="#222" stroke-width="1.25"/>
<text transform="translate(418.30,80.77) scale(0.9,1)" text-anchor="end" font-size="8.32" fill="#333">15</text>
<line x1="420.8" y1="62.66" x2="423.8" y2="62.66" stroke="#222" stroke-width="1.25"/>
<text transform="translate(418.30,65.41) scale(0.9,1)" text-anchor="end" font-size="8.32" fill="#333">20</text>
<line x1="420.8" y1="47.30" x2="423.8" y2="47.30" stroke="#222" stroke-width="1.25"/>
<text transform="translate(418.30,50.05) scale(0.9,1)" text-anchor="end" font-size="8.32" fill="#333">25</text>
<line x1="446.4" y1="124.1" x2="446.4" y2="127.1" stroke="#222" stroke-width="1"/>
<line x1="479.1" y1="124.1" x2="479.1" y2="127.1" stroke="#222" stroke-width="1"/>
<text transform="translate(404.7,84.2) rotate(-90) scale(0.68,1)" text-anchor="middle" font-size="9.0" fill="#222">SSC ratio</text>
<line x1="446.15" y1="64.2" x2="446.15" y2="113.8" stroke="#111" stroke-width="1"/>
<line x1="440.8" y1="64.2" x2="451.5" y2="64.2" stroke="#111" stroke-width="1.1"/>
<line x1="440.8" y1="113.8" x2="451.5" y2="113.8" stroke="#111" stroke-width="1.1"/>
<rect x="434.5" y="81.9" width="23.30" height="11.85" fill="#44ade0"/>
<line x1="434.5" y1="88" x2="457.8" y2="88" stroke="#0d2a3a" stroke-width="0.8"/>
<circle cx="446.15" cy="87.98" r="0.75" fill="#0e2c3c"/>
<circle cx="447.90" cy="88.16" r="0.75" fill="#0e2c3c"/>
<circle cx="444.40" cy="88.27" r="0.75" fill="#0e2c3c"/>
<circle cx="449.65" cy="88.39" r="0.75" fill="#0e2c3c"/>
<circle cx="442.65" cy="87.55" r="0.75" fill="#0e2c3c"/>
<circle cx="441.25" cy="88.69" r="0.75" fill="#0e2c3c"/>
<circle cx="451.40" cy="88.97" r="0.75" fill="#0e2c3c"/>
<circle cx="450.70" cy="86.99" r="0.75" fill="#0e2c3c"/>
<circle cx="439.50" cy="89.11" r="0.75" fill="#0e2c3c"/>
<circle cx="453.15" cy="89.11" r="0.75" fill="#0e2c3c"/>
<circle cx="440.90" cy="86.84" r="0.75" fill="#0e2c3c"/>
<circle cx="448.95" cy="86.75" r="0.75" fill="#0e2c3c"/>
<circle cx="443.00" cy="89.27" r="0.75" fill="#0e2c3c"/>
<circle cx="447.20" cy="86.57" r="0.75" fill="#0e2c3c"/>
<circle cx="437.75" cy="89.49" r="0.75" fill="#0e2c3c"/>
<circle cx="445.45" cy="86.12" r="0.75" fill="#0e2c3c"/>
<circle cx="446.15" cy="90.14" r="0.75" fill="#0e2c3c"/>
<circle cx="447.90" cy="90.18" r="0.75" fill="#0e2c3c"/>
<circle cx="443.70" cy="85.77" r="0.75" fill="#0e2c3c"/>
<circle cx="444.40" cy="90.25" r="0.75" fill="#0e2c3c"/>
<circle cx="452.10" cy="85.68" r="0.75" fill="#0e2c3c"/>
<circle cx="449.65" cy="90.39" r="0.75" fill="#0e2c3c"/>
<circle cx="441.60" cy="90.61" r="0.75" fill="#0e2c3c"/>
<circle cx="450.00" cy="85.28" r="0.75" fill="#0e2c3c"/>
<circle cx="447.90" cy="85.01" r="0.75" fill="#0e2c3c"/>
<circle cx="441.95" cy="84.96" r="0.75" fill="#0e2c3c"/>
<circle cx="440.20" cy="84.83" r="0.75" fill="#0e2c3c"/>
<circle cx="451.40" cy="91.20" r="0.75" fill="#0e2c3c"/>
<circle cx="439.85" cy="91.31" r="0.75" fill="#0e2c3c"/>
<circle cx="453.50" cy="84.66" r="0.75" fill="#0e2c3c"/>
<circle cx="446.15" cy="84.56" r="0.75" fill="#0e2c3c"/>
<circle cx="438.45" cy="84.56" r="0.75" fill="#0e2c3c"/>
<circle cx="453.15" cy="91.46" r="0.75" fill="#0e2c3c"/>
<circle cx="455.25" cy="84.45" r="0.75" fill="#0e2c3c"/>
<circle cx="446.85" cy="91.74" r="0.75" fill="#0e2c3c"/>
<circle cx="445.10" cy="91.86" r="0.75" fill="#0e2c3c"/>
<circle cx="448.60" cy="91.89" r="0.75" fill="#0e2c3c"/>
<circle cx="443.35" cy="92.01" r="0.75" fill="#0e2c3c"/>
<circle cx="441.60" cy="92.38" r="0.75" fill="#0e2c3c"/>
<circle cx="444.75" cy="83.46" r="0.75" fill="#0e2c3c"/>
<circle cx="450.35" cy="92.71" r="0.75" fill="#0e2c3c"/>
<circle cx="447.20" cy="83.07" r="0.75" fill="#0e2c3c"/>
<circle cx="448.95" cy="83.05" r="0.75" fill="#0e2c3c"/>
<circle cx="443.00" cy="83.01" r="0.75" fill="#0e2c3c"/>
<circle cx="452.10" cy="93.02" r="0.75" fill="#0e2c3c"/>
<circle cx="439.85" cy="93.04" r="0.75" fill="#0e2c3c"/>
<circle cx="453.85" cy="93.19" r="0.75" fill="#0e2c3c"/>
<circle cx="450.70" cy="82.80" r="0.75" fill="#0e2c3c"/>
<circle cx="438.10" cy="93.20" r="0.75" fill="#0e2c3c"/>
<circle cx="455.60" cy="93.23" r="0.75" fill="#0e2c3c"/>
<circle cx="436.35" cy="93.28" r="0.75" fill="#0e2c3c"/>
<circle cx="446.15" cy="93.34" r="0.75" fill="#0e2c3c"/>
<circle cx="447.90" cy="93.46" r="0.75" fill="#0e2c3c"/>
<circle cx="441.25" cy="82.53" r="0.75" fill="#0e2c3c"/>
<circle cx="444.40" cy="93.65" r="0.75" fill="#0e2c3c"/>
<circle cx="452.45" cy="82.32" r="0.75" fill="#0e2c3c"/>
<circle cx="451.30" cy="93.70" r="0.75" fill="#0e2c3c"/>
<circle cx="439.50" cy="82.30" r="0.75" fill="#0e2c3c"/>
<circle cx="442.65" cy="93.78" r="0.75" fill="#0e2c3c"/>
<circle cx="454.20" cy="82.20" r="0.75" fill="#0e2c3c"/>
<circle cx="439.03" cy="93.84" r="0.75" fill="#0e2c3c"/>
<circle cx="437.75" cy="82.11" r="0.75" fill="#0e2c3c"/>
<circle cx="445.80" cy="82.10" r="0.75" fill="#0e2c3c"/>
<circle cx="455.95" cy="82.10" r="0.75" fill="#0e2c3c"/>
<circle cx="436.00" cy="82.04" r="0.75" fill="#0e2c3c"/>
<circle cx="442.85" cy="82.04" r="0.75" fill="#0e2c3c"/>
<circle cx="438.81" cy="82.03" r="0.75" fill="#0e2c3c"/>
<circle cx="439.03" cy="81.96" r="0.75" fill="#0e2c3c"/>
<circle cx="436.76" cy="94.05" r="0.75" fill="#0e2c3c"/>
<circle cx="443.63" cy="94.08" r="0.75" fill="#0e2c3c"/>
<circle cx="451.65" cy="94.15" r="0.75" fill="#0e2c3c"/>
<circle cx="457.00" cy="94.23" r="0.75" fill="#0e2c3c"/>
<circle cx="452.49" cy="94.25" r="0.75" fill="#0e2c3c"/>
<circle cx="452.76" cy="81.70" r="0.75" fill="#0e2c3c"/>
<circle cx="441.85" cy="81.64" r="0.75" fill="#0e2c3c"/>
<circle cx="449.65" cy="94.39" r="0.75" fill="#0e2c3c"/>
<circle cx="453.47" cy="81.59" r="0.75" fill="#0e2c3c"/>
<circle cx="440.90" cy="94.47" r="0.75" fill="#0e2c3c"/>
<circle cx="447.90" cy="81.44" r="0.75" fill="#0e2c3c"/>
<circle cx="449.65" cy="81.40" r="0.75" fill="#0e2c3c"/>
<circle cx="436.24" cy="81.37" r="0.75" fill="#0e2c3c"/>
<circle cx="455.11" cy="81.24" r="0.75" fill="#0e2c3c"/>
<circle cx="454.55" cy="94.85" r="0.75" fill="#0e2c3c"/>
<circle cx="446.85" cy="94.95" r="0.75" fill="#0e2c3c"/>
<circle cx="435.30" cy="94.97" r="0.75" fill="#0e2c3c"/>
<circle cx="444.40" cy="80.95" r="0.75" fill="#0e2c3c"/>
<circle cx="442.13" cy="80.89" r="0.75" fill="#0e2c3c"/>
<circle cx="446.15" cy="80.15" r="0.75" fill="#0e2c3c"/>
<circle cx="445.45" cy="96.06" r="0.75" fill="#0e2c3c"/>
<circle cx="447.90" cy="79.67" r="0.75" fill="#0e2c3c"/>
<circle cx="449.65" cy="79.65" r="0.75" fill="#0e2c3c"/>
<circle cx="446.85" cy="97.35" r="0.75" fill="#0e2c3c"/>
<circle cx="446.15" cy="78.14" r="0.75" fill="#0e2c3c"/>
<circle cx="445.45" cy="98.40" r="0.75" fill="#0e2c3c"/>
<circle cx="447.20" cy="99.16" r="0.75" fill="#0e2c3c"/>
<circle cx="447.20" cy="76.65" r="0.75" fill="#0e2c3c"/>
<circle cx="445.45" cy="75.91" r="0.75" fill="#0e2c3c"/>
<circle cx="446.15" cy="100.60" r="0.75" fill="#0e2c3c"/>
<circle cx="446.15" cy="73.96" r="0.75" fill="#0e2c3c"/>
<circle cx="446.15" cy="103.51" r="0.75" fill="#0e2c3c"/>
<circle cx="446.15" cy="72.23" r="0.75" fill="#0e2c3c"/>
<circle cx="447.20" cy="104.92" r="0.75" fill="#0e2c3c"/>
<circle cx="446.15" cy="68.58" r="0.75" fill="#0e2c3c"/>
<circle cx="446.15" cy="108.85" r="0.75" fill="#0e2c3c"/>
<circle cx="446.15" cy="64.20" r="0.75" fill="#0e2c3c"/>
<circle cx="446.15" cy="113.80" r="0.75" fill="#0e2c3c"/>
<line x1="479.30" y1="79.2" x2="479.30" y2="96.9" stroke="#111" stroke-width="1"/>
<line x1="474" y1="79.2" x2="484.4" y2="79.2" stroke="#111" stroke-width="1.1"/>
<line x1="474" y1="96.9" x2="484.4" y2="96.9" stroke="#111" stroke-width="1.1"/>
<rect x="468.4" y="87.2" width="21.80" height="5.60" fill="#cc0a2d"/>
<line x1="468.4" y1="90.4" x2="490.2" y2="90.4" stroke="#4a0a18" stroke-width="0.8"/>
<circle cx="479.30" cy="90.76" r="0.7" fill="#111"/>
<circle cx="481.75" cy="89.74" r="0.7" fill="#111"/>
<circle cx="476.85" cy="91.20" r="0.7" fill="#111"/>
<circle cx="475.10" cy="89.49" r="0.7" fill="#111"/>
<circle cx="484.20" cy="89.02" r="0.7" fill="#111"/>
<circle cx="482.80" cy="91.92" r="0.7" fill="#111"/>
<circle cx="474.40" cy="92.10" r="0.7" fill="#111"/>
<circle cx="479.30" cy="88.31" r="0.7" fill="#111"/>
<circle cx="485.25" cy="92.63" r="0.7" fill="#111"/>
<circle cx="471.95" cy="92.83" r="0.7" fill="#111"/>
<circle cx="476.85" cy="87.81" r="0.7" fill="#111"/>
<circle cx="480.35" cy="93.03" r="0.7" fill="#111"/>
<circle cx="487.70" cy="93.11" r="0.7" fill="#111"/>
<circle cx="477.90" cy="93.86" r="0.7" fill="#111"/>
<circle cx="481.40" cy="86.92" r="0.7" fill="#111"/>
<circle cx="474.40" cy="86.79" r="0.7" fill="#111"/>
<circle cx="483.85" cy="86.14" r="0.7" fill="#111"/>
<circle cx="482.10" cy="94.78" r="0.7" fill="#111"/>
<circle cx="478.60" cy="86.01" r="0.7" fill="#111"/>
<circle cx="480.00" cy="83.97" r="0.7" fill="#111"/>
<circle cx="479.30" cy="96.90" r="0.7" fill="#111"/>
<circle cx="479.30" cy="79.20" r="0.7" fill="#111"/>
<text x="452.40" y="119.4" font-size="8.0" font-style="italic" fill="#222">P</text>
<path d="M459.40 116.40 H464.20 M459.40 118.20 H464.20" fill="none" stroke="#333" stroke-width="0.9"/>
<text x="466.20" y="119.4" font-size="7.6" fill="#222">.548</text>
<text transform="translate(445.90,132.60) rotate(-45) scale(0.9,1)" text-anchor="end" font-size="8.44" fill="#222"><tspan x="0" y="0.00">CONTROLS</tspan><tspan x="0" y="9.20">n = 106</tspan></text>
<text transform="translate(478.90,132.60) rotate(-45) scale(0.9,1)" text-anchor="end" font-size="8.44" fill="#222"><tspan x="0" y="0.00">VEXAS n = 26</tspan></text>
<text x="81.6" y="207.7" text-anchor="middle" font-size="8.7" fill="#222">Neutrophil precursors</text>
<text x="81.6" y="216.3" text-anchor="middle" font-size="7.6" fill="#222">(mature neutrophils as internal</text>
<text x="81.6" y="225.8" text-anchor="middle" font-size="7.6" fill="#222">standard)</text>
<line x1="44.2" y1="231.39999999999998" x2="44.2" y2="308.4" stroke="#222" stroke-width="1.2"/>
<line x1="43.6" y1="308.4" x2="118" y2="308.4" stroke="#222" stroke-width="1.2"/>
<line x1="41.2" y1="308.40" x2="44.2" y2="308.40" stroke="#222" stroke-width="1.25"/>
<text transform="translate(38.70,311.15) scale(0.9,1)" text-anchor="end" font-size="8.32" fill="#333">0.0</text>
<line x1="41.2" y1="283.67" x2="44.2" y2="283.67" stroke="#222" stroke-width="1.25"/>
<text transform="translate(38.70,286.42) scale(0.9,1)" text-anchor="end" font-size="8.32" fill="#333">0.5</text>
<line x1="41.2" y1="258.93" x2="44.2" y2="258.93" stroke="#222" stroke-width="1.25"/>
<text transform="translate(38.70,261.68) scale(0.9,1)" text-anchor="end" font-size="8.32" fill="#333">1.0</text>
<line x1="41.2" y1="234.20" x2="44.2" y2="234.20" stroke="#222" stroke-width="1.25"/>
<text transform="translate(38.70,236.95) scale(0.9,1)" text-anchor="end" font-size="8.32" fill="#333">1.5</text>
<line x1="65.75" y1="308.4" x2="65.75" y2="311.4" stroke="#222" stroke-width="1"/>
<line x1="97.5" y1="308.4" x2="97.5" y2="311.4" stroke="#222" stroke-width="1"/>
<text transform="translate(23.3,269.5) rotate(-90) scale(0.68,1)" text-anchor="middle" font-size="9.0" fill="#222">SSC ratio</text>
<line x1="65.40" y1="253.6" x2="65.40" y2="289.2" stroke="#111" stroke-width="1"/>
<line x1="60.8" y1="253.6" x2="71" y2="253.6" stroke="#111" stroke-width="1.1"/>
<line x1="60.8" y1="289.2" x2="71" y2="289.2" stroke="#111" stroke-width="1.1"/>
<rect x="54.5" y="269.3" width="21.80" height="8.50" fill="#44ade0"/>
<line x1="54.5" y1="273.4" x2="76.3" y2="273.4" stroke="#0d2a3a" stroke-width="0.8"/>
<circle cx="65.40" cy="273.32" r="0.85" fill="#0e2c3c"/>
<circle cx="67.50" cy="273.48" r="0.85" fill="#0e2c3c"/>
<circle cx="63.30" cy="273.59" r="0.85" fill="#0e2c3c"/>
<circle cx="69.60" cy="273.63" r="0.85" fill="#0e2c3c"/>
<circle cx="61.20" cy="273.07" r="0.85" fill="#0e2c3c"/>
<circle cx="71.70" cy="273.79" r="0.85" fill="#0e2c3c"/>
<circle cx="59.45" cy="274.14" r="0.85" fill="#0e2c3c"/>
<circle cx="58.05" cy="272.65" r="0.85" fill="#0e2c3c"/>
<circle cx="73.38" cy="274.22" r="0.85" fill="#0e2c3c"/>
<circle cx="69.02" cy="272.56" r="0.85" fill="#0e2c3c"/>
<circle cx="65.04" cy="272.51" r="0.85" fill="#0e2c3c"/>
<circle cx="66.02" cy="272.35" r="0.85" fill="#0e2c3c"/>
<circle cx="57.35" cy="274.68" r="0.85" fill="#0e2c3c"/>
<circle cx="61.90" cy="274.94" r="0.85" fill="#0e2c3c"/>
<circle cx="62.95" cy="271.72" r="0.85" fill="#0e2c3c"/>
<circle cx="66.10" cy="275.09" r="0.85" fill="#0e2c3c"/>
<circle cx="71.00" cy="271.70" r="0.85" fill="#0e2c3c"/>
<circle cx="63.38" cy="275.20" r="0.85" fill="#0e2c3c"/>
<circle cx="60.15" cy="271.47" r="0.85" fill="#0e2c3c"/>
<circle cx="68.20" cy="275.40" r="0.85" fill="#0e2c3c"/>
<circle cx="70.30" cy="275.42" r="0.85" fill="#0e2c3c"/>
<circle cx="73.10" cy="271.37" r="0.85" fill="#0e2c3c"/>
<circle cx="64.38" cy="271.31" r="0.85" fill="#0e2c3c"/>
<circle cx="72.06" cy="275.57" r="0.85" fill="#0e2c3c"/>
<circle cx="58.62" cy="275.63" r="0.85" fill="#0e2c3c"/>
<circle cx="67.50" cy="270.93" r="0.85" fill="#0e2c3c"/>
<circle cx="57.35" cy="270.86" r="0.85" fill="#0e2c3c"/>
<circle cx="67.91" cy="270.73" r="0.85" fill="#0e2c3c"/>
<circle cx="60.15" cy="276.11" r="0.85" fill="#0e2c3c"/>
<circle cx="73.43" cy="276.11" r="0.85" fill="#0e2c3c"/>
<circle cx="61.54" cy="270.61" r="0.85" fill="#0e2c3c"/>
<circle cx="67.73" cy="276.25" r="0.85" fill="#0e2c3c"/>
<circle cx="59.31" cy="270.53" r="0.85" fill="#0e2c3c"/>
<circle cx="71.72" cy="276.47" r="0.85" fill="#0e2c3c"/>
<circle cx="72.27" cy="270.28" r="0.85" fill="#0e2c3c"/>
<circle cx="64.70" cy="276.57" r="0.85" fill="#0e2c3c"/>
<circle cx="72.56" cy="270.22" r="0.85" fill="#0e2c3c"/>
<circle cx="69.95" cy="270.11" r="0.85" fill="#0e2c3c"/>
<circle cx="65.75" cy="269.78" r="0.85" fill="#0e2c3c"/>
<circle cx="63.30" cy="269.72" r="0.85" fill="#0e2c3c"/>
<circle cx="61.57" cy="269.56" r="0.85" fill="#0e2c3c"/>
<circle cx="62.60" cy="277.25" r="0.85" fill="#0e2c3c"/>
<circle cx="58.17" cy="269.53" r="0.85" fill="#0e2c3c"/>
<circle cx="69.60" cy="277.30" r="0.85" fill="#0e2c3c"/>
<circle cx="67.60" cy="269.49" r="0.85" fill="#0e2c3c"/>
<circle cx="57.70" cy="277.36" r="0.85" fill="#0e2c3c"/>
<circle cx="68.30" cy="277.36" r="0.85" fill="#0e2c3c"/>
<circle cx="68.40" cy="269.43" r="0.85" fill="#0e2c3c"/>
<circle cx="72.14" cy="277.40" r="0.85" fill="#0e2c3c"/>
<circle cx="73.03" cy="269.34" r="0.85" fill="#0e2c3c"/>
<circle cx="62.10" cy="269.33" r="0.85" fill="#0e2c3c"/>
<circle cx="72.33" cy="277.58" r="0.85" fill="#0e2c3c"/>
<circle cx="71.77" cy="277.60" r="0.85" fill="#0e2c3c"/>
<circle cx="58.70" cy="269.10" r="0.85" fill="#0e2c3c"/>
<circle cx="65.52" cy="269.06" r="0.85" fill="#0e2c3c"/>
<circle cx="60.06" cy="277.76" r="0.85" fill="#0e2c3c"/>
<circle cx="71.94" cy="269.00" r="0.85" fill="#0e2c3c"/>
<circle cx="70.92" cy="268.98" r="0.85" fill="#0e2c3c"/>
<circle cx="66.45" cy="277.83" r="0.85" fill="#0e2c3c"/>
<circle cx="60.60" cy="277.84" r="0.85" fill="#0e2c3c"/>
<circle cx="59.89" cy="277.88" r="0.85" fill="#0e2c3c"/>
<circle cx="72.11" cy="277.91" r="0.85" fill="#0e2c3c"/>
<circle cx="60.42" cy="278.00" r="0.85" fill="#0e2c3c"/>
<circle cx="63.60" cy="278.06" r="0.85" fill="#0e2c3c"/>
<circle cx="67.04" cy="268.66" r="0.85" fill="#0e2c3c"/>
<circle cx="63.45" cy="278.17" r="0.85" fill="#0e2c3c"/>
<circle cx="71.09" cy="268.60" r="0.85" fill="#0e2c3c"/>
<circle cx="72.21" cy="278.23" r="0.85" fill="#0e2c3c"/>
<circle cx="73.18" cy="278.31" r="0.85" fill="#0e2c3c"/>
<circle cx="70.92" cy="268.12" r="0.85" fill="#0e2c3c"/>
<circle cx="60.50" cy="267.97" r="0.85" fill="#0e2c3c"/>
<circle cx="65.99" cy="267.97" r="0.85" fill="#0e2c3c"/>
<circle cx="64.95" cy="278.91" r="0.85" fill="#0e2c3c"/>
<circle cx="64.00" cy="267.78" r="0.85" fill="#0e2c3c"/>
<circle cx="67.85" cy="279.27" r="0.85" fill="#0e2c3c"/>
<circle cx="62.25" cy="279.68" r="0.85" fill="#0e2c3c"/>
<circle cx="69.60" cy="280.02" r="0.85" fill="#0e2c3c"/>
<circle cx="66.10" cy="280.54" r="0.85" fill="#0e2c3c"/>
<circle cx="66.80" cy="266.20" r="0.85" fill="#0e2c3c"/>
<circle cx="65.05" cy="265.45" r="0.85" fill="#0e2c3c"/>
<circle cx="64.35" cy="281.49" r="0.85" fill="#0e2c3c"/>
<circle cx="66.45" cy="263.93" r="0.85" fill="#0e2c3c"/>
<circle cx="65.40" cy="283.28" r="0.85" fill="#0e2c3c"/>
<circle cx="67.50" cy="283.53" r="0.85" fill="#0e2c3c"/>
<circle cx="64.70" cy="263.12" r="0.85" fill="#0e2c3c"/>
<circle cx="65.40" cy="285.49" r="0.85" fill="#0e2c3c"/>
<circle cx="65.40" cy="261.03" r="0.85" fill="#0e2c3c"/>
<circle cx="65.40" cy="258.69" r="0.85" fill="#0e2c3c"/>
<circle cx="65.40" cy="289.20" r="0.85" fill="#0e2c3c"/>
<circle cx="65.40" cy="253.60" r="0.85" fill="#0e2c3c"/>
<line x1="97.35" y1="243.2" x2="97.35" y2="266.2" stroke="#111" stroke-width="1"/>
<line x1="92.3" y1="243.2" x2="102.5" y2="243.2" stroke="#111" stroke-width="1.1"/>
<line x1="92.3" y1="266.2" x2="102.5" y2="266.2" stroke="#111" stroke-width="1.1"/>
<rect x="86.7" y="250" width="21.30" height="8.40" fill="#cc0a2d"/>
<line x1="86.7" y1="253.6" x2="108" y2="253.6" stroke="#4a0a18" stroke-width="0.8"/>
<circle cx="97.35" cy="254.11" r="0.7" fill="#111"/>
<circle cx="99.45" cy="252.88" r="0.7" fill="#111"/>
<circle cx="94.90" cy="255.01" r="0.7" fill="#111"/>
<circle cx="95.95" cy="252.06" r="0.7" fill="#111"/>
<circle cx="99.45" cy="255.65" r="0.7" fill="#111"/>
<circle cx="93.50" cy="251.50" r="0.7" fill="#111"/>
<circle cx="101.55" cy="251.46" r="0.7" fill="#111"/>
<circle cx="98.05" cy="250.57" r="0.7" fill="#111"/>
<circle cx="91.40" cy="250.25" r="0.7" fill="#111"/>
<circle cx="97.35" cy="257.00" r="0.7" fill="#111"/>
<circle cx="103.65" cy="250.15" r="0.7" fill="#111"/>
<circle cx="94.90" cy="257.99" r="0.7" fill="#111"/>
<circle cx="99.80" cy="258.08" r="0.7" fill="#111"/>
<circle cx="96.30" cy="248.89" r="0.7" fill="#111"/>
<circle cx="102.25" cy="258.45" r="0.7" fill="#111"/>
<circle cx="92.45" cy="259.06" r="0.7" fill="#111"/>
<circle cx="98.75" cy="248.07" r="0.7" fill="#111"/>
<circle cx="97.35" cy="259.52" r="0.7" fill="#111"/>
<circle cx="94.55" cy="247.10" r="0.7" fill="#111"/>
<circle cx="97.35" cy="261.96" r="0.7" fill="#111"/>
<circle cx="97.35" cy="243.20" r="0.7" fill="#111"/>
<circle cx="97.35" cy="266.20" r="0.7" fill="#111"/>
<text x="72.70" y="300.6" font-size="8.0" font-style="italic" fill="#222">P</text>
<path d="M84.90 295.10 L80.60 297.80 L84.90 300.50" fill="none" stroke="#222" stroke-width="0.75"/>
<text x="86.60" y="300.6" font-size="7.6" fill="#222">.0001</text>
<text transform="translate(68.60,317.70) rotate(-45) scale(0.9,1)" text-anchor="end" font-size="8.44" fill="#222"><tspan x="0" y="0.00">CONTROLS</tspan><tspan x="0" y="9.20">n = 106</tspan></text>
<text transform="translate(100.30,317.70) rotate(-45) scale(0.9,1)" text-anchor="end" font-size="8.44" fill="#222"><tspan x="0" y="0.00">VEXAS n = 26</tspan></text>
<text x="266.5" y="222.2" text-anchor="middle" font-size="8.7" fill="#222">Neutrophil precursors</text>
<line x1="188.1" y1="226.6" x2="188.1" y2="308.4" stroke="#222" stroke-width="1.2"/>
<line x1="187.5" y1="308.4" x2="345" y2="308.4" stroke="#222" stroke-width="1.2"/>
<line x1="185.1" y1="308.40" x2="188.1" y2="308.40" stroke="#222" stroke-width="1.25"/>
<text transform="translate(182.60,311.15) scale(0.9,1)" text-anchor="end" font-size="8.32" fill="#333">0</text>
<line x1="185.1" y1="288.65" x2="188.1" y2="288.65" stroke="#222" stroke-width="1.25"/>
<text transform="translate(182.60,291.40) scale(0.9,1)" text-anchor="end" font-size="8.32" fill="#333">5</text>
<line x1="185.1" y1="268.90" x2="188.1" y2="268.90" stroke="#222" stroke-width="1.25"/>
<text transform="translate(182.60,271.65) scale(0.9,1)" text-anchor="end" font-size="8.32" fill="#333">10</text>
<line x1="185.1" y1="249.15" x2="188.1" y2="249.15" stroke="#222" stroke-width="1.25"/>
<text transform="translate(182.60,251.90) scale(0.9,1)" text-anchor="end" font-size="8.32" fill="#333">15</text>
<line x1="185.1" y1="229.40" x2="188.1" y2="229.40" stroke="#222" stroke-width="1.25"/>
<text transform="translate(182.60,232.15) scale(0.9,1)" text-anchor="end" font-size="8.32" fill="#333">20</text>
<line x1="207.5" y1="308.4" x2="207.5" y2="311.4" stroke="#222" stroke-width="1"/>
<line x1="237" y1="308.4" x2="237" y2="311.4" stroke="#222" stroke-width="1"/>
<line x1="266.2" y1="308.4" x2="266.2" y2="311.4" stroke="#222" stroke-width="1"/>
<line x1="295.5" y1="308.4" x2="295.5" y2="311.4" stroke="#222" stroke-width="1"/>
<line x1="325" y1="308.4" x2="325" y2="311.4" stroke="#222" stroke-width="1"/>
<text transform="translate(169.1,267.2) rotate(-90) scale(0.68,1)" text-anchor="middle" font-size="9.0" fill="#222">SSC ratio</text>
<line x1="207.80" y1="265.6" x2="207.80" y2="293.9" stroke="#111" stroke-width="1"/>
<line x1="203" y1="265.6" x2="212.6" y2="265.6" stroke="#111" stroke-width="1.1"/>
<line x1="203" y1="293.9" x2="212.6" y2="293.9" stroke="#111" stroke-width="1.1"/>
<rect x="198.1" y="271.6" width="19.40" height="9.70" fill="#3ab53e"/>
<line x1="198.1" y1="276.4" x2="217.5" y2="276.4" stroke="#0b4a12" stroke-width="0.8"/>
<circle cx="207.80" cy="276.71" r="0.95" fill="#111"/>
<circle cx="209.90" cy="277.43" r="0.95" fill="#111"/>
<circle cx="207.80" cy="274.57" r="0.95" fill="#111"/>
<circle cx="207.80" cy="278.94" r="0.95" fill="#111"/>
<circle cx="209.20" cy="273.23" r="0.95" fill="#111"/>
<circle cx="208.85" cy="280.67" r="0.95" fill="#111"/>
<circle cx="207.80" cy="271.88" r="0.95" fill="#111"/>
<circle cx="207.10" cy="281.53" r="0.95" fill="#111"/>
<circle cx="209.55" cy="270.99" r="0.95" fill="#111"/>
<circle cx="206.05" cy="270.62" r="0.95" fill="#111"/>
<circle cx="208.15" cy="283.13" r="0.95" fill="#111"/>
<circle cx="207.80" cy="265.60" r="0.95" fill="#111"/>
<circle cx="207.80" cy="293.90" r="0.95" fill="#111"/>
<line x1="236.75" y1="269" x2="236.75" y2="283" stroke="#111" stroke-width="1"/>
<line x1="232.7" y1="269" x2="241.6" y2="269" stroke="#111" stroke-width="1.1"/>
<line x1="232.7" y1="283" x2="241.6" y2="283" stroke="#111" stroke-width="1.1"/>
<rect x="227.1" y="273.3" width="19.30" height="4.10" fill="#3ab53e"/>
<line x1="227.1" y1="275.4" x2="246.4" y2="275.4" stroke="#0b4a12" stroke-width="0.8"/>
<circle cx="236.75" cy="275.71" r="0.95" fill="#111"/>
<circle cx="238.85" cy="275.73" r="0.95" fill="#111"/>
<circle cx="235.00" cy="274.97" r="0.95" fill="#111"/>
<circle cx="240.60" cy="274.78" r="0.95" fill="#111"/>
<circle cx="233.25" cy="276.11" r="0.95" fill="#111"/>
<circle cx="231.85" cy="274.69" r="0.95" fill="#111"/>
<circle cx="242.00" cy="276.11" r="0.95" fill="#111"/>
<circle cx="243.40" cy="274.67" r="0.95" fill="#111"/>
<circle cx="230.45" cy="276.20" r="0.95" fill="#111"/>
<circle cx="244.10" cy="276.64" r="0.95" fill="#111"/>
<circle cx="237.45" cy="273.85" r="0.95" fill="#111"/>
<circle cx="230.10" cy="273.79" r="0.95" fill="#111"/>
<circle cx="245.15" cy="273.76" r="0.95" fill="#111"/>
<circle cx="235.35" cy="277.06" r="0.95" fill="#111"/>
<circle cx="228.00" cy="273.70" r="0.95" fill="#111"/>
<circle cx="240.25" cy="277.25" r="0.95" fill="#111"/>
<circle cx="233.60" cy="273.40" r="0.95" fill="#111"/>
<circle cx="237.45" cy="277.50" r="0.95" fill="#111"/>
<circle cx="235.70" cy="273.01" r="0.95" fill="#111"/>
<circle cx="232.20" cy="277.83" r="0.95" fill="#111"/>
<circle cx="229.40" cy="277.84" r="0.95" fill="#111"/>
<circle cx="244.61" cy="277.87" r="0.95" fill="#111"/>
<circle cx="239.20" cy="272.87" r="0.95" fill="#111"/>
<circle cx="241.30" cy="272.50" r="0.95" fill="#111"/>
<circle cx="231.85" cy="272.48" r="0.95" fill="#111"/>
<circle cx="236.05" cy="279.08" r="0.95" fill="#111"/>
<circle cx="236.75" cy="271.33" r="0.95" fill="#111"/>
<circle cx="237.80" cy="279.89" r="0.95" fill="#111"/>
<circle cx="236.75" cy="269.00" r="0.95" fill="#111"/>
<circle cx="236.75" cy="283.00" r="0.95" fill="#111"/>
<line x1="266.20" y1="263.3" x2="266.20" y2="289.2" stroke="#111" stroke-width="1"/>
<line x1="261.6" y1="263.3" x2="271.3" y2="263.3" stroke="#111" stroke-width="1.1"/>
<line x1="261.6" y1="289.2" x2="271.3" y2="289.2" stroke="#111" stroke-width="1.1"/>
<rect x="256.5" y="272.2" width="19.40" height="9.20" fill="#3ab53e"/>
<line x1="256.5" y1="277" x2="275.9" y2="277" stroke="#0b4a12" stroke-width="0.8"/>
<circle cx="266.20" cy="276.95" r="0.95" fill="#111"/>
<circle cx="268.30" cy="276.50" r="0.95" fill="#111"/>
<circle cx="264.10" cy="277.53" r="0.95" fill="#111"/>
<circle cx="262.35" cy="276.27" r="0.95" fill="#111"/>
<circle cx="270.05" cy="275.74" r="0.95" fill="#111"/>
<circle cx="267.25" cy="278.60" r="0.95" fill="#111"/>
<circle cx="269.35" cy="278.88" r="0.95" fill="#111"/>
<circle cx="266.20" cy="274.91" r="0.95" fill="#111"/>
<circle cx="265.15" cy="279.26" r="0.95" fill="#111"/>
<circle cx="267.95" cy="274.02" r="0.95" fill="#111"/>
<circle cx="264.45" cy="274.01" r="0.95" fill="#111"/>
<circle cx="263.40" cy="280.09" r="0.95" fill="#111"/>
<circle cx="270.05" cy="273.49" r="0.95" fill="#111"/>
<circle cx="266.90" cy="280.52" r="0.95" fill="#111"/>
<circle cx="269.00" cy="280.97" r="0.95" fill="#111"/>
<circle cx="266.20" cy="272.74" r="0.95" fill="#111"/>
<circle cx="263.05" cy="272.64" r="0.95" fill="#111"/>
<circle cx="265.15" cy="281.43" r="0.95" fill="#111"/>
<circle cx="262.00" cy="281.52" r="0.95" fill="#111"/>
<circle cx="260.95" cy="272.47" r="0.95" fill="#111"/>
<circle cx="271.10" cy="281.57" r="0.95" fill="#111"/>
<circle cx="271.80" cy="272.32" r="0.95" fill="#111"/>
<circle cx="259.90" cy="281.96" r="0.95" fill="#111"/>
<circle cx="267.95" cy="271.83" r="0.95" fill="#111"/>
<circle cx="266.90" cy="282.67" r="0.95" fill="#111"/>
<circle cx="266.20" cy="270.83" r="0.95" fill="#111"/>
<circle cx="265.15" cy="283.61" r="0.95" fill="#111"/>
<circle cx="267.60" cy="269.49" r="0.95" fill="#111"/>
<circle cx="266.90" cy="284.72" r="0.95" fill="#111"/>
<circle cx="265.85" cy="268.44" r="0.95" fill="#111"/>
<circle cx="266.20" cy="289.20" r="0.95" fill="#111"/>
<circle cx="266.20" cy="263.30" r="0.95" fill="#111"/>
<line x1="296.00" y1="262" x2="296.00" y2="285" stroke="#111" stroke-width="1"/>
<line x1="291.2" y1="262" x2="300.4" y2="262" stroke="#111" stroke-width="1.1"/>
<line x1="291.2" y1="285" x2="300.4" y2="285" stroke="#111" stroke-width="1.1"/>
<rect x="286.3" y="272.2" width="19.40" height="6.10" fill="#3ab53e"/>
<line x1="286.3" y1="275.4" x2="305.7" y2="275.4" stroke="#0b4a12" stroke-width="0.8"/>
<circle cx="296.00" cy="275.17" r="0.95" fill="#111"/>
<circle cx="298.10" cy="275.73" r="0.95" fill="#111"/>
<circle cx="293.90" cy="274.87" r="0.95" fill="#111"/>
<circle cx="292.50" cy="276.29" r="0.95" fill="#111"/>
<circle cx="300.20" cy="276.36" r="0.95" fill="#111"/>
<circle cx="290.40" cy="276.53" r="0.95" fill="#111"/>
<circle cx="299.50" cy="274.19" r="0.95" fill="#111"/>
<circle cx="296.70" cy="277.02" r="0.95" fill="#111"/>
<circle cx="297.40" cy="273.67" r="0.95" fill="#111"/>
<circle cx="295.30" cy="272.97" r="0.95" fill="#111"/>
<circle cx="294.95" cy="277.85" r="0.95" fill="#111"/>
<circle cx="298.45" cy="278.07" r="0.95" fill="#111"/>
<circle cx="292.85" cy="278.22" r="0.95" fill="#111"/>
<circle cx="298.80" cy="272.35" r="0.95" fill="#111"/>
<circle cx="293.20" cy="272.33" r="0.95" fill="#111"/>
<circle cx="300.55" cy="278.70" r="0.95" fill="#111"/>
<circle cx="290.75" cy="278.73" r="0.95" fill="#111"/>
<circle cx="302.65" cy="278.81" r="0.95" fill="#111"/>
<circle cx="300.90" cy="271.89" r="0.95" fill="#111"/>
<circle cx="291.10" cy="271.75" r="0.95" fill="#111"/>
<circle cx="296.70" cy="271.69" r="0.95" fill="#111"/>
<circle cx="296.00" cy="279.75" r="0.95" fill="#111"/>
<circle cx="294.95" cy="270.44" r="0.95" fill="#111"/>
<circle cx="297.75" cy="280.65" r="0.95" fill="#111"/>
<circle cx="296.00" cy="268.12" r="0.95" fill="#111"/>
<circle cx="296.00" cy="285.00" r="0.95" fill="#111"/>
<circle cx="296.00" cy="262.00" r="0.95" fill="#111"/>
<line x1="324.80" y1="244.4" x2="324.80" y2="274.6" stroke="#111" stroke-width="1"/>
<line x1="320.2" y1="244.4" x2="329.9" y2="244.4" stroke="#111" stroke-width="1.1"/>
<line x1="320.2" y1="274.6" x2="329.9" y2="274.6" stroke="#111" stroke-width="1.1"/>
<rect x="314.9" y="257.7" width="19.80" height="5.30" fill="#cc0a2d"/>
<line x1="314.9" y1="260.6" x2="334.7" y2="260.6" stroke="#4a0a18" stroke-width="0.8"/>
<circle cx="324.80" cy="260.91" r="0.7" fill="#111"/>
<circle cx="327.25" cy="260.21" r="0.7" fill="#111"/>
<circle cx="322.35" cy="261.04" r="0.7" fill="#111"/>
<circle cx="329.70" cy="260.12" r="0.7" fill="#111"/>
<circle cx="320.60" cy="259.34" r="0.7" fill="#111"/>
<circle cx="319.90" cy="262.02" r="0.7" fill="#111"/>
<circle cx="331.10" cy="262.23" r="0.7" fill="#111"/>
<circle cx="323.40" cy="258.83" r="0.7" fill="#111"/>
<circle cx="326.55" cy="262.59" r="0.7" fill="#111"/>
<circle cx="325.85" cy="258.05" r="0.7" fill="#111"/>
<circle cx="324.10" cy="263.33" r="0.7" fill="#111"/>
<circle cx="329.00" cy="263.39" r="0.7" fill="#111"/>
<circle cx="321.65" cy="263.94" r="0.7" fill="#111"/>
<circle cx="328.30" cy="257.24" r="0.7" fill="#111"/>
<circle cx="321.65" cy="257.17" r="0.7" fill="#111"/>
<circle cx="319.20" cy="256.52" r="0.7" fill="#111"/>
<circle cx="324.80" cy="265.81" r="0.7" fill="#111"/>
<circle cx="324.80" cy="254.19" r="0.7" fill="#111"/>
<circle cx="324.80" cy="268.28" r="0.7" fill="#111"/>
<circle cx="324.80" cy="251.60" r="0.7" fill="#111"/>
<circle cx="324.80" cy="274.60" r="0.7" fill="#111"/>
<circle cx="324.80" cy="244.40" r="0.7" fill="#111"/>
<circle cx="203.60" cy="261.20" r="0.85" fill="#222"/>
<circle cx="206.60" cy="261.20" r="0.85" fill="#222"/>
<circle cx="209.60" cy="261.20" r="0.85" fill="#222"/>
<circle cx="212.60" cy="261.20" r="0.85" fill="#222"/>
<circle cx="233.00" cy="264.00" r="0.85" fill="#222"/>
<circle cx="236.00" cy="264.00" r="0.85" fill="#222"/>
<circle cx="239.00" cy="264.00" r="0.85" fill="#222"/>
<circle cx="242.00" cy="264.00" r="0.85" fill="#222"/>
<circle cx="262.10" cy="259.40" r="0.85" fill="#222"/>
<circle cx="265.10" cy="259.40" r="0.85" fill="#222"/>
<circle cx="268.10" cy="259.40" r="0.85" fill="#222"/>
<circle cx="271.10" cy="259.40" r="0.85" fill="#222"/>
<circle cx="291.60" cy="257.70" r="0.85" fill="#222"/>
<circle cx="294.60" cy="257.70" r="0.85" fill="#222"/>
<circle cx="297.60" cy="257.70" r="0.85" fill="#222"/>
<circle cx="300.60" cy="257.70" r="0.85" fill="#222"/>
<text transform="translate(210.30,317.70) rotate(-45) scale(0.9,1)" text-anchor="end" font-size="8.11" fill="#222"><tspan x="0" y="0.00">Vacuolated</tspan><tspan x="0" y="9.60">samples n = 13</tspan></text>
<text transform="translate(239.80,317.70) rotate(-45) scale(0.9,1)" text-anchor="end" font-size="8.11" fill="#222"><tspan x="0" y="0.00">Aplastic Anemia</tspan><tspan x="0" y="9.60">n = 34</tspan></text>
<text transform="translate(269.00,317.70) rotate(-45) scale(0.9,1)" text-anchor="end" font-size="8.11" fill="#222"><tspan x="0" y="0.00">MDS</tspan><tspan x="0" y="9.60">UBA1-WT n = 32</tspan></text>
<text transform="translate(298.30,317.70) rotate(-45) scale(0.9,1)" text-anchor="end" font-size="8.11" fill="#222"><tspan x="0" y="0.00">Other</tspan><tspan x="0" y="9.60">conditions n = 27</tspan></text>
<text transform="translate(327.80,317.70) rotate(-45) scale(0.9,1)" text-anchor="end" font-size="8.11" fill="#222"><tspan x="0" y="0.00">VEXAS n = 26</tspan></text>
<text x="450.5" y="222.2" text-anchor="middle" font-size="8.7" fill="#222">Neutrophil precursors</text>
<line x1="398.9" y1="229.5" x2="398.9" y2="308.4" stroke="#222" stroke-width="1.2"/>
<line x1="398.29999999999995" y1="308.4" x2="501.5" y2="308.4" stroke="#222" stroke-width="1.2"/>
<line x1="395.9" y1="308.40" x2="398.9" y2="308.40" stroke="#222" stroke-width="1.25"/>
<text transform="translate(393.40,311.15) scale(0.9,1)" text-anchor="end" font-size="8.32" fill="#333">0</text>
<line x1="395.9" y1="289.38" x2="398.9" y2="289.38" stroke="#222" stroke-width="1.25"/>
<text transform="translate(393.40,292.12) scale(0.9,1)" text-anchor="end" font-size="8.32" fill="#333">5</text>
<line x1="395.9" y1="270.35" x2="398.9" y2="270.35" stroke="#222" stroke-width="1.25"/>
<text transform="translate(393.40,273.10) scale(0.9,1)" text-anchor="end" font-size="8.32" fill="#333">10</text>
<line x1="395.9" y1="251.32" x2="398.9" y2="251.32" stroke="#222" stroke-width="1.25"/>
<text transform="translate(393.40,254.07) scale(0.9,1)" text-anchor="end" font-size="8.32" fill="#333">15</text>
<line x1="395.9" y1="232.30" x2="398.9" y2="232.30" stroke="#222" stroke-width="1.25"/>
<text transform="translate(393.40,235.05) scale(0.9,1)" text-anchor="end" font-size="8.32" fill="#333">20</text>
<line x1="419" y1="308.4" x2="419" y2="311.4" stroke="#222" stroke-width="1"/>
<line x1="449.8" y1="308.4" x2="449.8" y2="311.4" stroke="#222" stroke-width="1"/>
<line x1="480.6" y1="308.4" x2="480.6" y2="311.4" stroke="#222" stroke-width="1"/>
<text transform="translate(379.8,268.5) rotate(-90) scale(0.68,1)" text-anchor="middle" font-size="9.0" fill="#222">SSC ratio</text>
<line x1="419.30" y1="264.4" x2="419.30" y2="289.8" stroke="#111" stroke-width="1"/>
<line x1="414.3" y1="264.4" x2="424.5" y2="264.4" stroke="#111" stroke-width="1.1"/>
<line x1="414.3" y1="289.8" x2="424.5" y2="289.8" stroke="#111" stroke-width="1.1"/>
<rect x="409" y="272.9" width="20.60" height="9.60" fill="#3ab53e"/>
<line x1="409" y1="277.7" x2="429.6" y2="277.7" stroke="#0b4a12" stroke-width="0.8"/>
<circle cx="419.30" cy="277.98" r="0.95" fill="#111"/>
<circle cx="421.40" cy="278.22" r="0.95" fill="#111"/>
<circle cx="417.55" cy="277.01" r="0.95" fill="#111"/>
<circle cx="416.85" cy="278.85" r="0.95" fill="#111"/>
<circle cx="423.50" cy="278.88" r="0.95" fill="#111"/>
<circle cx="420.00" cy="276.18" r="0.95" fill="#111"/>
<circle cx="422.10" cy="275.97" r="0.95" fill="#111"/>
<circle cx="416.50" cy="275.36" r="0.95" fill="#111"/>
<circle cx="419.30" cy="280.14" r="0.95" fill="#111"/>
<circle cx="421.40" cy="280.36" r="0.95" fill="#111"/>
<circle cx="419.30" cy="274.23" r="0.95" fill="#111"/>
<circle cx="417.55" cy="281.34" r="0.95" fill="#111"/>
<circle cx="421.40" cy="273.99" r="0.95" fill="#111"/>
<circle cx="422.80" cy="281.78" r="0.95" fill="#111"/>
<circle cx="417.55" cy="273.02" r="0.95" fill="#111"/>
<circle cx="423.15" cy="272.98" r="0.95" fill="#111"/>
<circle cx="419.30" cy="282.42" r="0.95" fill="#111"/>
<circle cx="415.45" cy="272.91" r="0.95" fill="#111"/>
<circle cx="415.80" cy="282.51" r="0.95" fill="#111"/>
<circle cx="425.25" cy="272.88" r="0.95" fill="#111"/>
<circle cx="424.55" cy="282.98" r="0.95" fill="#111"/>
<circle cx="421.40" cy="283.10" r="0.95" fill="#111"/>
<circle cx="419.30" cy="272.26" r="0.95" fill="#111"/>
<circle cx="417.55" cy="283.30" r="0.95" fill="#111"/>
<circle cx="414.05" cy="283.67" r="0.95" fill="#111"/>
<circle cx="426.30" cy="284.04" r="0.95" fill="#111"/>
<circle cx="421.05" cy="271.35" r="0.95" fill="#111"/>
<circle cx="418.95" cy="270.37" r="0.95" fill="#111"/>
<circle cx="419.30" cy="286.41" r="0.95" fill="#111"/>
<circle cx="420.00" cy="268.65" r="0.95" fill="#111"/>
<circle cx="419.30" cy="289.80" r="0.95" fill="#111"/>
<circle cx="419.30" cy="264.40" r="0.95" fill="#111"/>
<line x1="450.15" y1="246.3" x2="450.15" y2="275.3" stroke="#111" stroke-width="1"/>
<line x1="445.3" y1="246.3" x2="455" y2="246.3" stroke="#111" stroke-width="1.1"/>
<line x1="445.3" y1="275.3" x2="455" y2="275.3" stroke="#111" stroke-width="1.1"/>
<rect x="440" y="260" width="20.30" height="8.50" fill="#cc0a2d"/>
<line x1="440" y1="262.5" x2="460.3" y2="262.5" stroke="#4a0a18" stroke-width="0.8"/>
<circle cx="450.15" cy="261.38" r="0.7" fill="#111"/>
<circle cx="452.60" cy="261.11" r="0.7" fill="#111"/>
<circle cx="450.15" cy="264.57" r="0.7" fill="#111"/>
<circle cx="448.40" cy="259.63" r="0.7" fill="#111"/>
<circle cx="450.15" cy="267.23" r="0.7" fill="#111"/>
<circle cx="452.25" cy="268.84" r="0.7" fill="#111"/>
<circle cx="450.15" cy="275.30" r="0.7" fill="#111"/>
<circle cx="450.15" cy="246.30" r="0.7" fill="#111"/>
<line x1="481.20" y1="250.9" x2="481.20" y2="271" stroke="#111" stroke-width="1"/>
<line x1="476" y1="250.9" x2="486.2" y2="250.9" stroke="#111" stroke-width="1.1"/>
<line x1="476" y1="271" x2="486.2" y2="271" stroke="#111" stroke-width="1.1"/>
<rect x="471.2" y="258.1" width="20.00" height="6.10" fill="#cc0a2d"/>
<line x1="471.2" y1="261.3" x2="491.2" y2="261.3" stroke="#4a0a18" stroke-width="0.8"/>
<circle cx="481.20" cy="261.43" r="0.7" fill="#111"/>
<circle cx="483.65" cy="261.60" r="0.7" fill="#111"/>
<circle cx="478.75" cy="260.47" r="0.7" fill="#111"/>
<circle cx="477.00" cy="262.34" r="0.7" fill="#111"/>
<circle cx="485.75" cy="262.88" r="0.7" fill="#111"/>
<circle cx="482.25" cy="259.22" r="0.7" fill="#111"/>
<circle cx="481.20" cy="263.90" r="0.7" fill="#111"/>
<circle cx="474.90" cy="263.95" r="0.7" fill="#111"/>
<circle cx="483.65" cy="264.10" r="0.7" fill="#111"/>
<circle cx="484.70" cy="258.41" r="0.7" fill="#111"/>
<circle cx="479.80" cy="258.22" r="0.7" fill="#111"/>
<circle cx="477.35" cy="258.21" r="0.7" fill="#111"/>
<circle cx="478.75" cy="264.64" r="0.7" fill="#111"/>
<circle cx="481.90" cy="256.74" r="0.7" fill="#111"/>
<circle cx="481.20" cy="266.87" r="0.7" fill="#111"/>
<circle cx="479.80" cy="255.27" r="0.7" fill="#111"/>
<circle cx="481.20" cy="271.00" r="0.7" fill="#111"/>
<circle cx="481.20" cy="250.90" r="0.7" fill="#111"/>
<path d="M419.2 245.8 V243.8 H452.1 V245.8 M452.9 245.8 V243.8 H484.4 V245.8" fill="none" stroke="#777" stroke-width="0.9"/>
<text x="418.70" y="241.8" font-size="8.0" font-style="italic" fill="#222">P</text>
<path d="M430.90 236.30 L426.60 239.00 L430.90 241.70" fill="none" stroke="#222" stroke-width="0.75"/>
<text x="432.60" y="241.8" font-size="7.6" fill="#222">.0001</text>
<text x="468.6" y="241.8" text-anchor="middle" font-size="7.6" fill="#222">ns</text>
<text transform="translate(421.80,317.70) rotate(-45) scale(0.9,1)" text-anchor="end" font-size="8.22" fill="#222"><tspan x="0" y="0.00">MDS</tspan><tspan x="0" y="9.40">UBA1-WT n = 32</tspan></text>
<text transform="translate(452.60,317.70) rotate(-45) scale(0.9,1)" text-anchor="end" font-size="8.22" fill="#222"><tspan x="0" y="0.00">MDS</tspan><tspan x="0" y="9.40">VEXAS n = 8</tspan></text>
<text transform="translate(483.40,317.70) rotate(-45) scale(0.9,1)" text-anchor="end" font-size="8.22" fill="#222"><tspan x="0" y="0.00">Non MDS</tspan><tspan x="0" y="9.40">VEXAS n = 18</tspan></text>
</svg></div></body></html>
